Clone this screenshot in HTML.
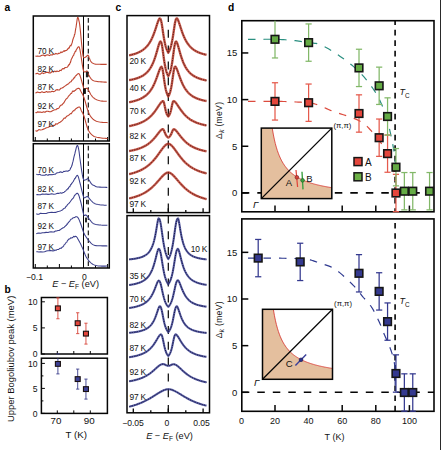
<!DOCTYPE html>
<html><head><meta charset="utf-8"><style>
html,body{margin:0;padding:0;background:#fff;}
body{width:441px;height:450px;overflow:hidden;font-family:"Liberation Sans", sans-serif;}
svg{display:block;}
</style></head><body>
<svg width="441" height="450" viewBox="0 0 441 450" font-family='"Liberation Sans", sans-serif'>
<text x="4.5" y="10.9" font-size="10.2" text-anchor="start" font-weight="bold" font-style="normal" fill="#000" >a</text>
<text x="4.6" y="292.7" font-size="10.2" text-anchor="start" font-weight="bold" font-style="normal" fill="#000" >b</text>
<text x="115.6" y="10.9" font-size="10.2" text-anchor="start" font-weight="bold" font-style="normal" fill="#000" >c</text>
<text x="227.9" y="10.9" font-size="10.2" text-anchor="start" font-weight="bold" font-style="normal" fill="#000" >d</text>
<rect x="33.3" y="16" width="76" height="125" fill="none" stroke="#050505" stroke-width="1.5"/>
<line x1="83.5" y1="16" x2="83.5" y2="141" stroke="#050505" stroke-width="1" />
<line x1="88.3" y1="16" x2="88.3" y2="141" stroke="#050505" stroke-width="1.1" stroke-dasharray="4.8,2.9" stroke-dashoffset="5.8"/>
<line x1="35.3" y1="141" x2="35.3" y2="137" stroke="#050505" stroke-width="1" />
<line x1="47.3" y1="141" x2="47.3" y2="138.5" stroke="#050505" stroke-width="1" />
<line x1="59.4" y1="141" x2="59.4" y2="137" stroke="#050505" stroke-width="1" />
<line x1="71.4" y1="141" x2="71.4" y2="138.5" stroke="#050505" stroke-width="1" />
<line x1="83.5" y1="141" x2="83.5" y2="137" stroke="#050505" stroke-width="1" />
<line x1="95.5" y1="141" x2="95.5" y2="138.5" stroke="#050505" stroke-width="1" />
<line x1="107.6" y1="141" x2="107.6" y2="137" stroke="#050505" stroke-width="1" />
<rect x="33.3" y="143.7" width="76" height="124.3" fill="none" stroke="#050505" stroke-width="1.5"/>
<line x1="83.5" y1="143.7" x2="83.5" y2="268" stroke="#050505" stroke-width="1" />
<line x1="88.3" y1="143.7" x2="88.3" y2="268" stroke="#050505" stroke-width="1.1" stroke-dasharray="4.8,2.9" stroke-dashoffset="5.6"/>
<line x1="35.3" y1="268" x2="35.3" y2="264" stroke="#050505" stroke-width="1" />
<line x1="47.3" y1="268" x2="47.3" y2="265.5" stroke="#050505" stroke-width="1" />
<line x1="59.4" y1="268" x2="59.4" y2="264" stroke="#050505" stroke-width="1" />
<line x1="71.4" y1="268" x2="71.4" y2="265.5" stroke="#050505" stroke-width="1" />
<line x1="83.5" y1="268" x2="83.5" y2="264" stroke="#050505" stroke-width="1" />
<line x1="95.5" y1="268" x2="95.5" y2="265.5" stroke="#050505" stroke-width="1" />
<line x1="107.6" y1="268" x2="107.6" y2="264" stroke="#050505" stroke-width="1" />
<path d="M35.4,55.93 L36.27,56.29 L37.44,55.97 L38.84,56.19 L40.37,56.1 L41.97,55.19 L43.54,54.97 L45,55.97 L46.41,55 L47.86,54.78 L49.33,55.65 L50.78,54.7 L52.17,55 L53.49,54.28 L54.7,54.29 L55.79,53.4 L56.79,53.87 L57.71,53.98 L58.57,53.28 L59.39,53.35 L60.2,53.01 L61,51.89 L61.8,52.57 L62.58,52.03 L63.34,51.31 L64.07,50.59 L64.76,51.42 L65.4,50.52 L66,50.51 L66.54,50.37 L67.01,49.78 L67.44,49.7 L67.84,48.59 L68.22,48.76 L68.6,47.85 L69,48.11 L69.41,47.59 L69.83,46.07 L70.24,45.68 L70.64,45.32 L71.02,45.86 L71.37,44.55 L71.7,44.18 L71.99,42.98 L72.24,42.42 L72.47,41.34 L72.69,40.35 L72.89,39.76 L73.09,38.89 L73.3,38.57 L73.51,37.61 L73.71,37.43 L73.91,36.85 L74.1,36.58 L74.3,35.62 L74.5,34.29 L74.7,34.5 L74.91,33.72 L75.12,32.59 L75.34,30.97 L75.56,29.97 L75.78,28.03 L75.99,27.67 L76.2,26 L76.41,24.71 L76.61,23.26 L76.81,21.76 L77.01,20.33 L77.2,19.07 L77.4,18.09 L77.6,17.5 L77.8,17.35 L78.01,17.54 L78.22,18.01 L78.43,18.67 L78.63,19.45 L78.82,20.25 L79,21 L79.16,21.63 L79.29,22.2 L79.4,22.79 L79.52,23.49 L79.65,24.42 L79.81,25.66 L80,27.3 L80.24,29.53 L80.52,32.32 L80.82,35.47 L81.14,38.75 L81.45,41.96 L81.74,44.88 L82,47.3 L82.22,49.28 L82.4,51.01 L82.57,52.53 L82.73,53.84 L82.9,54.96 L83.08,55.91 L83.3,56.7 L83.54,57.27 L83.8,57.59 L84.07,57.71 L84.36,57.69 L84.66,57.57 L84.97,57.43 L85.3,57.3 L85.66,57.11 L86.06,56.77 L86.47,56.35 L86.89,55.93 L87.3,55.57 L87.67,55.34 L88,55.3 L88.27,55.48 L88.51,55.83 L88.71,56.29 L88.9,56.83 L89.08,57.41 L89.28,57.98 L89.5,58.5 L89.73,59 L89.95,59.52 L90.17,60.06 L90.4,60.59 L90.66,61.1 L90.96,61.58 L91.3,62 L91.69,62.38 L92.1,62.73 L92.55,63.05 L93.03,63.34 L93.54,63.6 L94.1,63.82 L94.7,64 L95.35,64.13 L96.03,64.22 L96.77,64.26 L97.53,64.27 L98.33,64.28 L99.15,64.28 L100,64.3 L100.94,64.33 L102.01,64.35 L103.13,64.36 L104.22,64.37 L105.23,64.38 L106.08,64.39 L106.7,64.4" fill="none" stroke="#bf4632" stroke-width="1.1" stroke-linejoin="round"/>
<path d="M35.4,74.1 L36.27,73.61 L37.44,73.18 L38.84,74.15 L40.37,74.19 L41.97,72.76 L43.54,73.59 L45,72.87 L46.4,72.35 L47.83,72.39 L49.28,72.89 L50.71,72.86 L52.1,71.51 L53.44,72.1 L54.7,71.06 L55.88,71.75 L56.99,70.94 L58.05,71.42 L59.07,71.25 L60.06,70.25 L61.03,70.58 L62,69.23 L62.98,68.52 L63.96,68.86 L64.93,67.66 L65.87,67.46 L66.76,67.25 L67.57,66.95 L68.3,65.62 L68.93,64.62 L69.46,64.79 L69.93,62.95 L70.34,62.73 L70.73,61.54 L71.11,59.77 L71.5,58.94 L71.89,58.2 L72.27,57.61 L72.62,56.82 L72.97,56.08 L73.31,55.5 L73.65,55.29 L74,54.01 L74.36,53.22 L74.72,52.94 L75.09,51.58 L75.45,51 L75.81,51.32 L76.16,50.05 L76.5,49.5 L76.84,48.96 L77.18,48.4 L77.51,47.86 L77.84,47.38 L78.15,47.01 L78.44,46.77 L78.7,46.7 L78.93,46.81 L79.14,47.06 L79.32,47.44 L79.49,47.94 L79.65,48.54 L79.82,49.23 L80,50 L80.18,50.86 L80.35,51.83 L80.52,52.89 L80.69,54.04 L80.88,55.29 L81.08,56.61 L81.3,58 L81.55,59.59 L81.83,61.43 L82.12,63.39 L82.43,65.35 L82.73,67.18 L83.02,68.78 L83.3,70 L83.56,70.84 L83.8,71.39 L84.03,71.71 L84.26,71.88 L84.49,71.94 L84.74,71.96 L85,72 L85.29,71.98 L85.59,71.8 L85.91,71.55 L86.23,71.27 L86.54,71.05 L86.83,70.93 L87.1,71 L87.32,71.25 L87.49,71.62 L87.64,72.1 L87.79,72.64 L87.97,73.24 L88.2,73.87 L88.5,74.5 L88.88,75.18 L89.3,75.96 L89.77,76.79 L90.28,77.62 L90.83,78.41 L91.4,79.12 L92,79.7 L92.59,80.15 L93.18,80.49 L93.79,80.77 L94.44,80.98 L95.18,81.17 L96.02,81.33 L97,81.5 L98.23,81.66 L99.74,81.8 L101.38,81.91 L103.03,82.01 L104.57,82.08 L105.87,82.15 L106.8,82.2" fill="none" stroke="#bf4632" stroke-width="1.1" stroke-linejoin="round"/>
<path d="M35.4,92.83 L36.27,92.82 L37.44,92.01 L38.84,92.5 L40.37,92.64 L41.97,91.76 L43.54,92.48 L45,92.39 L46.39,91.46 L47.8,92.15 L49.22,91.8 L50.64,91.96 L52.03,91.32 L53.39,91.59 L54.7,91.33 L55.97,89.97 L57.2,89.61 L58.4,90.01 L59.57,89.91 L60.73,88.36 L61.87,88.06 L63,87.63 L64.14,86.56 L65.3,85.85 L66.45,84.97 L67.57,84.21 L68.64,83.69 L69.62,82.47 L70.5,81.83 L71.26,81.68 L71.9,79.96 L72.46,80.07 L72.97,79.66 L73.46,78.45 L73.96,77.71 L74.5,77.93 L75.09,76.48 L75.7,75.69 L76.32,75.4 L76.93,74.73 L77.5,74.16 L78.03,73.77 L78.5,73.6 L78.89,73.67 L79.22,73.93 L79.5,74.36 L79.75,74.91 L79.99,75.55 L80.23,76.26 L80.5,77 L80.79,77.83 L81.08,78.8 L81.37,79.86 L81.66,80.97 L81.95,82.06 L82.23,83.08 L82.5,84 L82.75,84.85 L82.97,85.69 L83.19,86.49 L83.4,87.23 L83.64,87.88 L83.9,88.41 L84.2,88.8 L84.56,88.98 L84.97,88.95 L85.41,88.79 L85.86,88.57 L86.31,88.36 L86.73,88.25 L87.1,88.3 L87.42,88.51 L87.71,88.8 L87.97,89.17 L88.22,89.58 L88.46,90.04 L88.72,90.52 L89,91 L89.29,91.51 L89.57,92.06 L89.86,92.65 L90.16,93.25 L90.48,93.86 L90.83,94.44 L91.2,95 L91.59,95.54 L92,96.07 L92.42,96.6 L92.87,97.11 L93.36,97.6 L93.9,98.07 L94.5,98.5 L95.16,98.91 L95.87,99.3 L96.63,99.66 L97.44,100 L98.27,100.31 L99.13,100.58 L100,100.8 L100.96,100.97 L102.05,101.09 L103.18,101.17 L104.29,101.22 L105.31,101.25 L106.17,101.27 L106.8,101.3" fill="none" stroke="#bf4632" stroke-width="1.1" stroke-linejoin="round"/>
<path d="M35.4,112.51 L36.27,112.81 L37.44,111.89 L38.84,112.1 L40.37,112 L41.97,112.57 L43.54,111.87 L45,112.3 L46.4,111.2 L47.83,111.32 L49.28,111.64 L50.71,111.82 L52.1,110.99 L53.44,110.36 L54.7,109.77 L55.88,109.76 L56.99,108.58 L58.05,108.65 L59.07,107.83 L60.06,105.99 L61.03,105.16 L62,104.93 L62.97,103.67 L63.92,102.77 L64.85,100.94 L65.76,99.45 L66.65,98.51 L67.49,98.11 L68.3,96.38 L69.05,95.59 L69.74,94.85 L70.38,94.07 L71.01,93.33 L71.65,93.35 L72.3,91.63 L73,90.81 L73.77,91.5 L74.6,90.79 L75.46,90.33 L76.31,89.12 L77.12,88.69 L77.86,88.4 L78.5,88.3 L79.01,88.39 L79.42,88.65 L79.75,89.05 L80.04,89.56 L80.33,90.16 L80.64,90.81 L81,91.5 L81.4,92.2 L81.81,92.92 L82.23,93.69 L82.67,94.56 L83.12,95.54 L83.6,96.68 L84.1,98 L84.63,99.61 L85.2,101.51 L85.79,103.59 L86.39,105.74 L87,107.83 L87.61,109.76 L88.2,111.4 L88.77,112.78 L89.31,114 L89.85,115.08 L90.4,116.05 L90.98,116.93 L91.61,117.74 L92.3,118.5 L93.04,119.19 L93.81,119.79 L94.61,120.31 L95.46,120.76 L96.37,121.15 L97.35,121.49 L98.4,121.8 L99.63,122.05 L101.07,122.23 L102.61,122.36 L104.14,122.44 L105.55,122.5 L106.74,122.55 L107.6,122.6" fill="none" stroke="#bf4632" stroke-width="1.1" stroke-linejoin="round"/>
<path d="M35.4,130.61 L36.27,131.14 L37.44,130.87 L38.84,129.59 L40.37,129.99 L41.97,129.76 L43.54,129.13 L45,128.53 L46.39,127.79 L47.8,127.43 L49.22,126.81 L50.64,126.1 L52.03,126.31 L53.39,125.32 L54.7,125.43 L55.97,123.68 L57.2,124.15 L58.4,123.07 L59.57,122.58 L60.73,121.71 L61.87,120.88 L63,119.61 L64.14,117.99 L65.29,118.16 L66.43,116.49 L67.54,115.81 L68.6,115.48 L69.59,114.48 L70.5,113.58 L71.3,113.62 L72.01,112.49 L72.64,111.48 L73.24,110.75 L73.81,111.04 L74.39,109.96 L75,109.9 L75.65,108.79 L76.33,108.47 L77.01,107.97 L77.68,107.53 L78.31,107.19 L78.89,107 L79.4,107 L79.82,107.22 L80.15,107.63 L80.43,108.18 L80.69,108.84 L80.93,109.56 L81.19,110.29 L81.5,111 L81.83,111.64 L82.16,112.23 L82.5,112.84 L82.85,113.52 L83.23,114.32 L83.65,115.29 L84.1,116.5 L84.6,118.05 L85.13,119.94 L85.7,122.03 L86.29,124.19 L86.91,126.3 L87.55,128.21 L88.2,129.8 L88.86,131.09 L89.54,132.19 L90.23,133.14 L90.95,133.96 L91.7,134.67 L92.48,135.31 L93.3,135.9 L94.17,136.4 L95.07,136.78 L96.01,137.07 L96.98,137.29 L97.97,137.47 L98.98,137.63 L100,137.8 L101.1,137.97 L102.33,138.11 L103.59,138.22 L104.83,138.31 L105.96,138.39 L106.91,138.45 L107.6,138.5" fill="none" stroke="#bf4632" stroke-width="1.1" stroke-linejoin="round"/>
<path d="M36.3,174.1 L37.1,174.49 L38.2,174.84 L39.51,174.29 L40.93,175 L42.38,175.22 L43.77,175.17 L45,175.22 L46.08,174.43 L47.09,175.08 L48.07,175.33 L49.02,174.51 L49.98,174.69 L50.96,174.61 L52,174.73 L53.11,174.41 L54.27,174.16 L55.46,174.13 L56.66,172.99 L57.83,172.68 L58.95,172.41 L60,172.12 L60.99,171.83 L61.95,172.51 L62.87,172.19 L63.74,171.23 L64.56,171.48 L65.32,171.15 L66,171.01 L66.59,170.99 L67.08,171.3 L67.51,171.28 L67.89,171.09 L68.25,170.9 L68.61,170.91 L69,170.42 L69.4,170.45 L69.79,170.15 L70.17,169.26 L70.55,168.3 L70.93,167.63 L71.31,166.92 L71.7,166.1 L72.1,165.02 L72.5,163.14 L72.9,161.94 L73.31,160.05 L73.71,158.14 L74.11,156.41 L74.5,155 L74.89,153.66 L75.28,151.72 L75.68,150.33 L76.06,148.58 L76.43,147.23 L76.78,146.2 L77.1,145.6 L77.39,145.45 L77.66,145.67 L77.91,146.2 L78.14,146.96 L78.36,147.9 L78.58,148.93 L78.8,150 L79,151.12 L79.18,152.34 L79.34,153.69 L79.51,155.17 L79.7,156.79 L79.92,158.56 L80.2,160.5 L80.54,162.8 L80.92,165.53 L81.34,168.48 L81.78,171.44 L82.23,174.2 L82.67,176.55 L83.1,178.3 L83.52,179.38 L83.95,179.96 L84.38,180.17 L84.81,180.12 L85.23,179.95 L85.63,179.76 L86,179.7 L86.33,179.64 L86.62,179.43 L86.88,179.16 L87.14,178.88 L87.42,178.68 L87.73,178.63 L88.1,178.8 L88.53,179.25 L89.02,179.94 L89.53,180.79 L90.07,181.7 L90.6,182.59 L91.12,183.39 L91.6,184 L92.05,184.43 L92.48,184.76 L92.89,185 L93.3,185.19 L93.7,185.35 L94.1,185.51 L94.5,185.7 L94.84,185.9 L95.1,186.1 L95.33,186.29 L95.6,186.46 L95.98,186.62 L96.52,186.77 L97.3,186.9 L98.44,187.01 L99.92,187.11 L101.61,187.19 L103.34,187.26 L104.96,187.31 L106.33,187.36 L107.3,187.4" fill="none" stroke="#3b3f8c" stroke-width="1.05" stroke-linejoin="round"/>
<path d="M36.3,194.86 L37.35,194.56 L38.77,194.74 L40.45,194.77 L42.32,194 L44.26,194.2 L46.18,194.06 L48,194.38 L49.8,194.33 L51.72,193.69 L53.67,194.15 L55.59,193.96 L57.42,193.33 L59.07,193.38 L60.5,192.82 L61.67,193.23 L62.65,192.74 L63.48,192.57 L64.19,192.06 L64.81,191.51 L65.41,191.15 L66,190.56 L66.56,189.71 L67.04,189.82 L67.46,188.87 L67.85,188.62 L68.22,188.83 L68.59,187.65 L69,187.19 L69.43,186.63 L69.86,186.79 L70.29,185.42 L70.71,184.58 L71.14,184.7 L71.57,183.29 L72,183.34 L72.43,182.51 L72.87,182 L73.31,181.44 L73.74,180.4 L74.17,179.97 L74.59,178.6 L75,178.77 L75.39,177.91 L75.78,177.44 L76.15,176.56 L76.52,175.97 L76.88,175.55 L77.24,175.36 L77.6,175.5 L77.94,175.97 L78.27,176.7 L78.58,177.65 L78.9,178.8 L79.24,180.1 L79.6,181.51 L80,183 L80.46,184.75 L80.96,186.85 L81.5,189.13 L82.05,191.43 L82.58,193.57 L83.07,195.38 L83.5,196.7 L83.86,197.47 L84.17,197.83 L84.45,197.89 L84.71,197.75 L84.96,197.51 L85.22,197.3 L85.5,197.2 L85.79,197.14 L86.08,197 L86.37,196.83 L86.67,196.67 L86.99,196.56 L87.33,196.55 L87.7,196.7 L88.11,197.03 L88.56,197.5 L89.03,198.07 L89.51,198.71 L90.01,199.35 L90.51,199.97 L91,200.5 L91.47,200.97 L91.93,201.44 L92.38,201.88 L92.85,202.31 L93.35,202.71 L93.89,203.07 L94.5,203.4 L95.17,203.69 L95.89,203.94 L96.65,204.15 L97.45,204.34 L98.28,204.51 L99.13,204.66 L100,204.8 L100.95,204.92 L102.02,205.02 L103.14,205.1 L104.23,205.17 L105.24,205.22 L106.08,205.26 L106.7,205.3" fill="none" stroke="#3b3f8c" stroke-width="1.05" stroke-linejoin="round"/>
<path d="M36.3,213.71 L37.35,214.26 L38.77,214.33 L40.45,213.31 L42.32,213.42 L44.26,213.48 L46.18,213.54 L48,212.74 L49.8,212.47 L51.7,212.34 L53.63,212.49 L55.54,212.39 L57.36,211.73 L59.04,211.33 L60.5,210.9 L61.72,210.28 L62.74,209.7 L63.61,208.64 L64.39,208.28 L65.13,207.92 L65.88,206.5 L66.7,205.95 L67.58,204.41 L68.47,203.91 L69.35,202.9 L70.23,201.72 L71.09,200.48 L71.91,199.42 L72.7,198.64 L73.45,197.94 L74.18,196.14 L74.89,195.05 L75.57,194.77 L76.21,193.79 L76.82,193.35 L77.4,193.3 L77.93,193.68 L78.41,194.41 L78.85,195.43 L79.26,196.67 L79.67,198.05 L80.08,199.52 L80.5,201 L80.95,202.66 L81.41,204.61 L81.88,206.71 L82.34,208.82 L82.77,210.8 L83.16,212.51 L83.5,213.8 L83.77,214.64 L83.99,215.16 L84.17,215.42 L84.33,215.5 L84.47,215.49 L84.62,215.46 L84.8,215.5 L84.97,215.51 L85.12,215.38 L85.27,215.2 L85.43,215.01 L85.62,214.89 L85.87,214.9 L86.2,215.1 L86.62,215.53 L87.11,216.15 L87.67,216.89 L88.25,217.7 L88.85,218.53 L89.44,219.31 L90,220 L90.51,220.62 L90.99,221.24 L91.46,221.84 L91.94,222.41 L92.46,222.94 L93.04,223.4 L93.7,223.8 L94.45,224.12 L95.28,224.36 L96.16,224.54 L97.09,224.69 L98.04,224.8 L99.02,224.9 L100,225 L101.06,225.09 L102.25,225.16 L103.48,225.21 L104.69,225.24 L105.79,225.26 L106.72,225.28 L107.4,225.3" fill="none" stroke="#3b3f8c" stroke-width="1.05" stroke-linejoin="round"/>
<path d="M36.3,233.72 L37.37,233.26 L38.84,233.11 L40.58,233.3 L42.49,232.65 L44.44,232.61 L46.32,232.38 L48,232.59 L49.55,232.1 L51.09,231.78 L52.6,231.98 L54.06,231.96 L55.46,230.99 L56.78,231.06 L58,230.41 L59.12,230.47 L60.15,229.79 L61.1,229.04 L61.98,228.53 L62.8,227.85 L63.57,227.8 L64.3,227.18 L64.97,226.41 L65.55,226.01 L66.08,225.35 L66.56,225.16 L67.03,223.89 L67.5,224.1 L68,222.98 L68.49,222.49 L68.96,221.72 L69.41,221.46 L69.88,220.83 L70.37,219.98 L70.9,219.36 L71.5,219.12 L72.19,218.79 L72.97,217.84 L73.8,217.71 L74.65,217.54 L75.47,216.78 L76.23,216.7 L76.9,216.8 L77.46,217.11 L77.94,217.6 L78.36,218.23 L78.75,219.01 L79.14,219.91 L79.55,220.91 L80,222 L80.5,223.28 L81.04,224.8 L81.59,226.46 L82.15,228.17 L82.69,229.83 L83.21,231.34 L83.7,232.6 L84.14,233.6 L84.55,234.43 L84.93,235.13 L85.31,235.73 L85.68,236.3 L86.08,236.88 L86.5,237.5 L86.94,238.16 L87.38,238.82 L87.83,239.47 L88.3,240.1 L88.79,240.72 L89.33,241.32 L89.9,241.9 L90.46,242.47 L90.99,243.05 L91.54,243.62 L92.15,244.16 L92.88,244.64 L93.78,245.07 L94.9,245.4 L96.4,245.63 L98.29,245.78 L100.39,245.85 L102.52,245.88 L104.52,245.88 L106.2,245.88 L107.4,245.9" fill="none" stroke="#3b3f8c" stroke-width="1.05" stroke-linejoin="round"/>
<path d="M36.3,251.83 L37.39,251.73 L38.9,252.08 L40.69,251.88 L42.63,251.98 L44.59,251.69 L46.42,250.9 L48,250.69 L49.36,250.62 L50.62,250.43 L51.8,250.84 L52.92,250.87 L53.98,250.78 L55,249.97 L56,250.37 L56.96,249.57 L57.88,249.42 L58.75,249.43 L59.58,248.47 L60.36,248.13 L61.1,248.47 L61.8,247.49 L62.44,247.06 L63.02,246.72 L63.54,246.21 L64.04,244.91 L64.52,244.59 L65,244.05 L65.5,243.49 L65.99,242.6 L66.43,242.35 L66.86,242.09 L67.31,240.9 L67.79,240.45 L68.35,239.45 L69,239.07 L69.79,238.93 L70.71,237.8 L71.71,238.01 L72.74,237.53 L73.73,236.31 L74.63,236.9 L75.4,236.27 L76.01,236.53 L76.5,236.82 L76.91,237.25 L77.28,237.8 L77.64,238.45 L78.04,239.19 L78.5,240 L79.03,240.91 L79.59,241.97 L80.17,243.12 L80.76,244.34 L81.35,245.6 L81.94,246.87 L82.5,248.1 L83.03,249.34 L83.54,250.64 L84.04,251.96 L84.54,253.27 L85.06,254.55 L85.61,255.77 L86.2,256.9 L86.84,257.95 L87.5,258.96 L88.19,259.92 L88.9,260.82 L89.65,261.66 L90.41,262.42 L91.2,263.1 L91.99,263.69 L92.77,264.2 L93.57,264.63 L94.41,264.99 L95.32,265.31 L96.3,265.57 L97.4,265.8 L98.72,265.97 L100.27,266.07 L101.94,266.11 L103.61,266.12 L105.16,266.11 L106.46,266.09 L107.4,266.1" fill="none" stroke="#3b3f8c" stroke-width="1.05" stroke-linejoin="round"/>
<text x="37.6" y="53.6" font-size="8.2" text-anchor="start" font-weight="normal" font-style="normal" fill="#111"  letter-spacing="-0.15">70 K</text>
<text x="37.6" y="71.7" font-size="8.2" text-anchor="start" font-weight="normal" font-style="normal" fill="#111"  letter-spacing="-0.15">82 K</text>
<text x="37.6" y="90.3" font-size="8.2" text-anchor="start" font-weight="normal" font-style="normal" fill="#111"  letter-spacing="-0.15">87 K</text>
<text x="37.6" y="109.2" font-size="8.2" text-anchor="start" font-weight="normal" font-style="normal" fill="#111"  letter-spacing="-0.15">92 K</text>
<text x="37.6" y="127.3" font-size="8.2" text-anchor="start" font-weight="normal" font-style="normal" fill="#111"  letter-spacing="-0.15">97 K</text>
<text x="37.6" y="173.2" font-size="8.2" text-anchor="start" font-weight="normal" font-style="normal" fill="#111"  letter-spacing="-0.15">70 K</text>
<text x="37.6" y="191.7" font-size="8.2" text-anchor="start" font-weight="normal" font-style="normal" fill="#111"  letter-spacing="-0.15">82 K</text>
<text x="37.6" y="208.8" font-size="8.2" text-anchor="start" font-weight="normal" font-style="normal" fill="#111"  letter-spacing="-0.15">87 K</text>
<text x="37.6" y="228.5" font-size="8.2" text-anchor="start" font-weight="normal" font-style="normal" fill="#111"  letter-spacing="-0.15">92 K</text>
<text x="37.6" y="250.1" font-size="8.2" text-anchor="start" font-weight="normal" font-style="normal" fill="#111"  letter-spacing="-0.15">97 K</text>
<rect x="85.9" y="71.8" width="2.2" height="5.5" fill="#222"/>
<rect x="83.5" y="88.3" width="2.4" height="5.6" fill="#111"/>
<rect x="86" y="199.8" width="1.6" height="4.4" fill="#222"/>
<rect x="85.1" y="217.6" width="1.8" height="4.8" fill="#111"/>
<text x="34.5" y="279.5" font-size="8.6" text-anchor="middle" font-weight="normal" font-style="normal" fill="#111" >−0.1</text>
<text x="84.5" y="279.5" font-size="8.6" text-anchor="middle" font-weight="normal" font-style="normal" fill="#111" >0</text>
<text x="75.6" y="287.2" font-size="9.2" text-anchor="middle" fill="#111"><tspan font-style="italic">E</tspan> − <tspan font-style="italic">E</tspan><tspan font-size="6.6" dy="1.8">F</tspan><tspan dy="-1.8"> (eV)</tspan></text>
<rect x="41.4" y="297.5" width="66" height="56.5" fill="none" stroke="#050505" stroke-width="1.5"/>
<line x1="41.4" y1="354" x2="44.9" y2="354" stroke="#050505" stroke-width="1" />
<line x1="41.4" y1="327.9" x2="44.9" y2="327.9" stroke="#050505" stroke-width="1" />
<line x1="41.4" y1="301.8" x2="44.9" y2="301.8" stroke="#050505" stroke-width="1" />
<line x1="57.3" y1="354" x2="57.3" y2="351" stroke="#050505" stroke-width="1" />
<line x1="73.8" y1="354" x2="73.8" y2="351" stroke="#050505" stroke-width="1" />
<line x1="90.3" y1="354" x2="90.3" y2="351" stroke="#050505" stroke-width="1" />
<text x="37.5" y="305" font-size="8.6" text-anchor="end" font-weight="normal" font-style="normal" fill="#111" >10</text>
<text x="37.5" y="331.1" font-size="8.6" text-anchor="end" font-weight="normal" font-style="normal" fill="#111" >5</text>
<text x="37.5" y="357.2" font-size="8.6" text-anchor="end" font-weight="normal" font-style="normal" fill="#111" >0</text>
<line x1="57.9" y1="297.88" x2="57.9" y2="318.76" stroke="#d8453a" stroke-width="0.9" />
<line x1="56.3" y1="297.88" x2="59.5" y2="297.88" stroke="#d8453a" stroke-width="0.9" />
<line x1="56.3" y1="318.76" x2="59.5" y2="318.76" stroke="#d8453a" stroke-width="0.9" />
<rect x="55.4" y="305.93" width="5" height="4.8" fill="#e4463c" stroke="#1a1010" stroke-width="1.1"/>
<line x1="77.7" y1="312.76" x2="77.7" y2="333.64" stroke="#d8453a" stroke-width="0.9" />
<line x1="76.1" y1="312.76" x2="79.3" y2="312.76" stroke="#d8453a" stroke-width="0.9" />
<line x1="76.1" y1="333.64" x2="79.3" y2="333.64" stroke="#d8453a" stroke-width="0.9" />
<rect x="75.2" y="320.8" width="5" height="4.8" fill="#e4463c" stroke="#1a1010" stroke-width="1.1"/>
<line x1="85.95" y1="323.2" x2="85.95" y2="344.08" stroke="#d8453a" stroke-width="0.9" />
<line x1="84.35" y1="323.2" x2="87.55" y2="323.2" stroke="#d8453a" stroke-width="0.9" />
<line x1="84.35" y1="344.08" x2="87.55" y2="344.08" stroke="#d8453a" stroke-width="0.9" />
<rect x="83.45" y="331.24" width="5" height="4.8" fill="#e4463c" stroke="#1a1010" stroke-width="1.1"/>
<rect x="41.4" y="358.2" width="66" height="55.2" fill="none" stroke="#050505" stroke-width="1.5"/>
<line x1="41.4" y1="413.4" x2="44.9" y2="413.4" stroke="#050505" stroke-width="1" />
<line x1="41.4" y1="400.9" x2="43.4" y2="400.9" stroke="#050505" stroke-width="1" />
<line x1="41.4" y1="388.4" x2="44.9" y2="388.4" stroke="#050505" stroke-width="1" />
<line x1="41.4" y1="375.9" x2="43.4" y2="375.9" stroke="#050505" stroke-width="1" />
<line x1="41.4" y1="363.4" x2="44.9" y2="363.4" stroke="#050505" stroke-width="1" />
<line x1="57.3" y1="413.4" x2="57.3" y2="410.4" stroke="#050505" stroke-width="1" />
<line x1="73.8" y1="413.4" x2="73.8" y2="410.4" stroke="#050505" stroke-width="1" />
<line x1="90.3" y1="413.4" x2="90.3" y2="410.4" stroke="#050505" stroke-width="1" />
<text x="37.5" y="366.6" font-size="8.6" text-anchor="end" font-weight="normal" font-style="normal" fill="#111" >10</text>
<text x="37.5" y="391.6" font-size="8.6" text-anchor="end" font-weight="normal" font-style="normal" fill="#111" >5</text>
<text x="37.5" y="416.6" font-size="8.6" text-anchor="end" font-weight="normal" font-style="normal" fill="#111" >0</text>
<line x1="57.9" y1="358.2" x2="57.9" y2="373.9" stroke="#3a3d8c" stroke-width="0.9" />
<line x1="56.3" y1="353.9" x2="59.5" y2="353.9" stroke="#3a3d8c" stroke-width="0.9" />
<line x1="56.3" y1="373.9" x2="59.5" y2="373.9" stroke="#3a3d8c" stroke-width="0.9" />
<rect x="55.4" y="361.5" width="5" height="4.8" fill="#3c3f95" stroke="#1a1010" stroke-width="1.1"/>
<line x1="77.7" y1="369.1" x2="77.7" y2="389.1" stroke="#3a3d8c" stroke-width="0.9" />
<line x1="76.1" y1="369.1" x2="79.3" y2="369.1" stroke="#3a3d8c" stroke-width="0.9" />
<line x1="76.1" y1="389.1" x2="79.3" y2="389.1" stroke="#3a3d8c" stroke-width="0.9" />
<rect x="75.2" y="376.7" width="5" height="4.8" fill="#3c3f95" stroke="#1a1010" stroke-width="1.1"/>
<line x1="85.95" y1="379.1" x2="85.95" y2="399.1" stroke="#3a3d8c" stroke-width="0.9" />
<line x1="84.35" y1="379.1" x2="87.55" y2="379.1" stroke="#3a3d8c" stroke-width="0.9" />
<line x1="84.35" y1="399.1" x2="87.55" y2="399.1" stroke="#3a3d8c" stroke-width="0.9" />
<rect x="83.45" y="386.7" width="5" height="4.8" fill="#3c3f95" stroke="#1a1010" stroke-width="1.1"/>
<text x="55.9" y="423.8" font-size="9.8" text-anchor="middle" font-weight="normal" font-style="normal" fill="#111" >70</text>
<text x="89.2" y="423.8" font-size="9.8" text-anchor="middle" font-weight="normal" font-style="normal" fill="#111" >90</text>
<text x="76.3" y="437.6" font-size="9.7" text-anchor="middle" font-weight="normal" font-style="normal" fill="#111" >T (K)</text>
<text x="0" y="0" font-size="9.45" text-anchor="middle" fill="#111" transform="translate(14.4,358.9) rotate(-90)">Upper Bogoliubov peak (meV)</text>
<rect x="127" y="15.6" width="82.5" height="197" fill="none" stroke="#050505" stroke-width="1.5"/>
<line x1="133.3" y1="212.6" x2="133.3" y2="208.3" stroke="#050505" stroke-width="1.3" />
<line x1="150.8" y1="212.6" x2="150.8" y2="210.1" stroke="#050505" stroke-width="1.3" />
<line x1="168.3" y1="212.6" x2="168.3" y2="208.3" stroke="#050505" stroke-width="1.3" />
<line x1="185.8" y1="212.6" x2="185.8" y2="210.1" stroke="#050505" stroke-width="1.3" />
<line x1="203.1" y1="212.6" x2="203.1" y2="208.3" stroke="#050505" stroke-width="1.3" />
<line x1="168.3" y1="15.6" x2="168.3" y2="212.6" stroke="#050505" stroke-width="1.2" stroke-dasharray="8,7.8" stroke-dashoffset="1.6"/>
<rect x="127" y="215.6" width="82.5" height="197.2" fill="none" stroke="#050505" stroke-width="1.5"/>
<line x1="133.3" y1="412.8" x2="133.3" y2="408.5" stroke="#050505" stroke-width="1.3" />
<line x1="150.8" y1="412.8" x2="150.8" y2="410.3" stroke="#050505" stroke-width="1.3" />
<line x1="168.3" y1="412.8" x2="168.3" y2="408.5" stroke="#050505" stroke-width="1.3" />
<line x1="185.8" y1="412.8" x2="185.8" y2="410.3" stroke="#050505" stroke-width="1.3" />
<line x1="203.1" y1="412.8" x2="203.1" y2="408.5" stroke="#050505" stroke-width="1.3" />
<line x1="168.3" y1="215.6" x2="168.3" y2="412.8" stroke="#050505" stroke-width="1.2" stroke-dasharray="8,7.8" stroke-dashoffset="0.2"/>
<path d="M129.2,55.32 L129.59,55.24 L129.98,55.15 L130.37,55.07 L130.75,54.97 L131.14,54.88 L131.53,54.79 L131.92,54.69 L132.31,54.59 L132.7,54.48 L133.08,54.37 L133.47,54.26 L133.86,54.15 L134.25,54.03 L134.64,53.9 L135.03,53.78 L135.42,53.65 L135.8,53.51 L136.19,53.37 L136.58,53.22 L136.97,53.07 L137.36,52.92 L137.75,52.75 L138.13,52.59 L138.52,52.41 L138.91,52.23 L139.3,52.04 L139.69,51.85 L140.08,51.65 L140.46,51.44 L140.85,51.22 L141.24,50.99 L141.63,50.75 L142.02,50.51 L142.41,50.25 L142.8,49.98 L143.18,49.7 L143.57,49.41 L143.96,49.11 L144.35,48.79 L144.74,48.45 L145.13,48.11 L145.51,47.74 L145.9,47.36 L146.29,46.96 L146.68,46.54 L147.07,46.1 L147.46,45.65 L147.85,45.16 L148.23,44.66 L148.62,44.13 L149.01,43.57 L149.4,42.98 L149.79,42.37 L150.18,41.72 L150.56,41.04 L150.95,40.33 L151.34,39.58 L151.73,38.8 L152.12,37.98 L152.51,37.11 L152.89,36.21 L153.28,35.26 L153.67,34.28 L154.06,33.25 L154.45,32.19 L154.84,31.08 L155.23,29.95 L155.61,28.78 L156,27.59 L156.39,26.39 L156.78,25.18 L157.17,23.99 L157.56,22.83 L157.94,21.72 L158.33,20.7 L158.72,19.79 L159.11,19.05 L159.5,18.54 L159.7,18.43 L159.89,18.45 L160.28,18.69 L160.66,19.36 L161.05,20.54 L161.44,22.22 L161.83,24.34 L162.22,26.78 L162.61,29.4 L162.99,32.07 L163.38,34.68 L163.77,37.15 L164.16,39.44 L164.55,41.52 L164.94,43.38 L165.33,45.03 L165.71,46.49 L166.1,47.77 L166.49,48.9 L166.88,49.88 L167.27,50.75 L167.66,51.51 L168.04,52.18 L168.3,52.58 L168.43,52.37 L168.82,51.73 L169.21,50.99 L169.6,50.16 L169.99,49.21 L170.37,48.13 L170.76,46.89 L171.15,45.49 L171.54,43.9 L171.93,42.1 L172.32,40.09 L172.71,37.87 L173.09,35.45 L173.48,32.87 L173.87,30.2 L174.26,27.55 L174.65,25.04 L175.04,22.8 L175.42,20.97 L175.81,19.62 L176.2,18.79 L176.59,18.42 L176.9,18.36 L176.98,18.39 L177.37,18.79 L177.76,19.46 L178.14,20.32 L178.53,21.31 L178.92,22.39 L179.31,23.53 L179.7,24.72 L180.09,25.92 L180.47,27.12 L180.86,28.31 L181.25,29.48 L181.64,30.62 L182.03,31.74 L182.42,32.81 L182.81,33.85 L183.19,34.84 L183.58,35.8 L183.97,36.71 L184.36,37.58 L184.75,38.41 L185.14,39.21 L185.52,39.96 L185.91,40.69 L186.3,41.37 L186.69,42.02 L187.08,42.65 L187.47,43.24 L187.85,43.8 L188.24,44.34 L188.63,44.85 L189.02,45.33 L189.41,45.8 L189.8,46.24 L190.19,46.66 L190.57,47.06 L190.96,47.45 L191.35,47.81 L191.74,48.16 L192.13,48.5 L192.52,48.82 L192.9,49.12 L193.29,49.42 L193.68,49.7 L194.07,49.97 L194.46,50.22 L194.85,50.47 L195.24,50.71 L195.62,50.94 L196.01,51.15 L196.4,51.36 L196.79,51.57 L197.18,51.76 L197.57,51.95 L197.95,52.13 L198.34,52.3 L198.73,52.47 L199.12,52.63 L199.51,52.78 L199.9,52.93 L200.28,53.07 L200.67,53.21 L201.06,53.35 L201.45,53.48 L201.84,53.6 L202.23,53.72 L202.62,53.84 L203,53.96 L203.39,54.07 L203.78,54.17 L204.17,54.27 L204.56,54.37 L204.95,54.47 L205.33,54.56 L205.72,54.66 L206.11,54.74 L206.5,54.83" fill="none" stroke="#bd3c2c" stroke-width="2.4" stroke-linejoin="round" opacity="0.85"/>
<path d="M129.2,55.32 L129.59,55.24 L129.98,55.15 L130.37,55.07 L130.75,54.97 L131.14,54.88 L131.53,54.79 L131.92,54.69 L132.31,54.59 L132.7,54.48 L133.08,54.37 L133.47,54.26 L133.86,54.15 L134.25,54.03 L134.64,53.9 L135.03,53.78 L135.42,53.65 L135.8,53.51 L136.19,53.37 L136.58,53.22 L136.97,53.07 L137.36,52.92 L137.75,52.75 L138.13,52.59 L138.52,52.41 L138.91,52.23 L139.3,52.04 L139.69,51.85 L140.08,51.65 L140.46,51.44 L140.85,51.22 L141.24,50.99 L141.63,50.75 L142.02,50.51 L142.41,50.25 L142.8,49.98 L143.18,49.7 L143.57,49.41 L143.96,49.11 L144.35,48.79 L144.74,48.45 L145.13,48.11 L145.51,47.74 L145.9,47.36 L146.29,46.96 L146.68,46.54 L147.07,46.1 L147.46,45.65 L147.85,45.16 L148.23,44.66 L148.62,44.13 L149.01,43.57 L149.4,42.98 L149.79,42.37 L150.18,41.72 L150.56,41.04 L150.95,40.33 L151.34,39.58 L151.73,38.8 L152.12,37.98 L152.51,37.11 L152.89,36.21 L153.28,35.26 L153.67,34.28 L154.06,33.25 L154.45,32.19 L154.84,31.08 L155.23,29.95 L155.61,28.78 L156,27.59 L156.39,26.39 L156.78,25.18 L157.17,23.99 L157.56,22.83 L157.94,21.72 L158.33,20.7 L158.72,19.79 L159.11,19.05 L159.5,18.54 L159.7,18.43 L159.89,18.45 L160.28,18.69 L160.66,19.36 L161.05,20.54 L161.44,22.22 L161.83,24.34 L162.22,26.78 L162.61,29.4 L162.99,32.07 L163.38,34.68 L163.77,37.15 L164.16,39.44 L164.55,41.52 L164.94,43.38 L165.33,45.03 L165.71,46.49 L166.1,47.77 L166.49,48.9 L166.88,49.88 L167.27,50.75 L167.66,51.51 L168.04,52.18 L168.3,52.58 L168.43,52.37 L168.82,51.73 L169.21,50.99 L169.6,50.16 L169.99,49.21 L170.37,48.13 L170.76,46.89 L171.15,45.49 L171.54,43.9 L171.93,42.1 L172.32,40.09 L172.71,37.87 L173.09,35.45 L173.48,32.87 L173.87,30.2 L174.26,27.55 L174.65,25.04 L175.04,22.8 L175.42,20.97 L175.81,19.62 L176.2,18.79 L176.59,18.42 L176.9,18.36 L176.98,18.39 L177.37,18.79 L177.76,19.46 L178.14,20.32 L178.53,21.31 L178.92,22.39 L179.31,23.53 L179.7,24.72 L180.09,25.92 L180.47,27.12 L180.86,28.31 L181.25,29.48 L181.64,30.62 L182.03,31.74 L182.42,32.81 L182.81,33.85 L183.19,34.84 L183.58,35.8 L183.97,36.71 L184.36,37.58 L184.75,38.41 L185.14,39.21 L185.52,39.96 L185.91,40.69 L186.3,41.37 L186.69,42.02 L187.08,42.65 L187.47,43.24 L187.85,43.8 L188.24,44.34 L188.63,44.85 L189.02,45.33 L189.41,45.8 L189.8,46.24 L190.19,46.66 L190.57,47.06 L190.96,47.45 L191.35,47.81 L191.74,48.16 L192.13,48.5 L192.52,48.82 L192.9,49.12 L193.29,49.42 L193.68,49.7 L194.07,49.97 L194.46,50.22 L194.85,50.47 L195.24,50.71 L195.62,50.94 L196.01,51.15 L196.4,51.36 L196.79,51.57 L197.18,51.76 L197.57,51.95 L197.95,52.13 L198.34,52.3 L198.73,52.47 L199.12,52.63 L199.51,52.78 L199.9,52.93 L200.28,53.07 L200.67,53.21 L201.06,53.35 L201.45,53.48 L201.84,53.6 L202.23,53.72 L202.62,53.84 L203,53.96 L203.39,54.07 L203.78,54.17 L204.17,54.27 L204.56,54.37 L204.95,54.47 L205.33,54.56 L205.72,54.66 L206.11,54.74 L206.5,54.83" fill="none" stroke="#4a1410" stroke-width="1.0" stroke-linejoin="round" stroke-dasharray="1.4,1.1" opacity="0.9"/>
<path d="M129.2,80.12 L129.59,80.05 L129.98,79.98 L130.37,79.91 L130.75,79.84 L131.14,79.76 L131.53,79.68 L131.92,79.6 L132.31,79.52 L132.7,79.43 L133.08,79.34 L133.47,79.25 L133.86,79.15 L134.25,79.05 L134.64,78.95 L135.03,78.84 L135.42,78.73 L135.8,78.62 L136.19,78.5 L136.58,78.38 L136.97,78.25 L137.36,78.12 L137.75,77.99 L138.13,77.85 L138.52,77.7 L138.91,77.55 L139.3,77.39 L139.69,77.22 L140.08,77.05 L140.46,76.87 L140.85,76.69 L141.24,76.49 L141.63,76.29 L142.02,76.08 L142.41,75.86 L142.8,75.63 L143.18,75.39 L143.57,75.14 L143.96,74.87 L144.35,74.6 L144.74,74.31 L145.13,74.01 L145.51,73.69 L145.9,73.36 L146.29,73.01 L146.68,72.64 L147.07,72.26 L147.46,71.85 L147.85,71.43 L148.23,70.98 L148.62,70.51 L149.01,70.01 L149.4,69.48 L149.79,68.93 L150.18,68.34 L150.56,67.73 L150.95,67.07 L151.34,66.38 L151.73,65.66 L152.12,64.89 L152.51,64.08 L152.89,63.22 L153.28,62.32 L153.67,61.36 L154.06,60.36 L154.45,59.3 L154.84,58.19 L155.23,57.03 L155.61,55.82 L156,54.56 L156.39,53.26 L156.78,51.92 L157.17,50.55 L157.56,49.17 L157.94,47.79 L158.33,46.44 L158.72,45.15 L159.11,43.95 L159.5,42.9 L159.89,42.05 L160.28,41.51 L160.4,41.45 L160.66,41.5 L161.05,41.9 L161.44,42.86 L161.83,44.43 L162.22,46.57 L162.61,49.16 L162.99,52.01 L163.38,54.95 L163.77,57.84 L164.16,60.57 L164.55,63.07 L164.94,65.31 L165.33,67.3 L165.71,69.04 L166.1,70.56 L166.49,71.88 L166.88,73.03 L167.27,74.02 L167.66,74.89 L168.04,75.64 L168.3,76.08 L168.43,75.86 L168.82,75.14 L169.21,74.32 L169.6,73.38 L169.99,72.29 L170.37,71.03 L170.76,69.58 L171.15,67.92 L171.54,66.01 L171.93,63.85 L172.32,61.44 L172.71,58.78 L173.09,55.94 L173.48,53.01 L173.87,50.11 L174.26,47.43 L174.65,45.14 L175.04,43.38 L175.42,42.23 L175.81,41.67 L176.2,41.55 L176.2,41.55 L176.59,41.95 L176.98,42.72 L177.37,43.72 L177.76,44.88 L178.14,46.15 L178.53,47.49 L178.92,48.87 L179.31,50.26 L179.7,51.63 L180.09,52.99 L180.47,54.31 L180.86,55.59 L181.25,56.82 L181.64,58 L182.03,59.13 L182.42,60.21 L182.81,61.24 L183.19,62.21 L183.58,63.14 L183.97,64.01 L184.36,64.84 L184.75,65.63 L185.14,66.38 L185.52,67.08 L185.91,67.75 L186.3,68.38 L186.69,68.98 L187.08,69.55 L187.47,70.09 L187.85,70.6 L188.24,71.09 L188.63,71.55 L189.02,71.99 L189.41,72.41 L189.8,72.8 L190.19,73.18 L190.57,73.54 L190.96,73.88 L191.35,74.21 L191.74,74.52 L192.13,74.82 L192.52,75.1 L192.9,75.37 L193.29,75.63 L193.68,75.88 L194.07,76.12 L194.46,76.35 L194.85,76.57 L195.24,76.78 L195.62,76.98 L196.01,77.17 L196.4,77.36 L196.79,77.54 L197.18,77.71 L197.57,77.88 L197.95,78.04 L198.34,78.19 L198.73,78.34 L199.12,78.48 L199.51,78.62 L199.9,78.75 L200.28,78.88 L200.67,79 L201.06,79.12 L201.45,79.24 L201.84,79.35 L202.23,79.46 L202.62,79.56 L203,79.67 L203.39,79.76 L203.78,79.86 L204.17,79.95 L204.56,80.04 L204.95,80.13 L205.33,80.21 L205.72,80.3 L206.11,80.38 L206.5,80.45" fill="none" stroke="#bd3c2c" stroke-width="2.4" stroke-linejoin="round" opacity="0.85"/>
<path d="M129.2,80.12 L129.59,80.05 L129.98,79.98 L130.37,79.91 L130.75,79.84 L131.14,79.76 L131.53,79.68 L131.92,79.6 L132.31,79.52 L132.7,79.43 L133.08,79.34 L133.47,79.25 L133.86,79.15 L134.25,79.05 L134.64,78.95 L135.03,78.84 L135.42,78.73 L135.8,78.62 L136.19,78.5 L136.58,78.38 L136.97,78.25 L137.36,78.12 L137.75,77.99 L138.13,77.85 L138.52,77.7 L138.91,77.55 L139.3,77.39 L139.69,77.22 L140.08,77.05 L140.46,76.87 L140.85,76.69 L141.24,76.49 L141.63,76.29 L142.02,76.08 L142.41,75.86 L142.8,75.63 L143.18,75.39 L143.57,75.14 L143.96,74.87 L144.35,74.6 L144.74,74.31 L145.13,74.01 L145.51,73.69 L145.9,73.36 L146.29,73.01 L146.68,72.64 L147.07,72.26 L147.46,71.85 L147.85,71.43 L148.23,70.98 L148.62,70.51 L149.01,70.01 L149.4,69.48 L149.79,68.93 L150.18,68.34 L150.56,67.73 L150.95,67.07 L151.34,66.38 L151.73,65.66 L152.12,64.89 L152.51,64.08 L152.89,63.22 L153.28,62.32 L153.67,61.36 L154.06,60.36 L154.45,59.3 L154.84,58.19 L155.23,57.03 L155.61,55.82 L156,54.56 L156.39,53.26 L156.78,51.92 L157.17,50.55 L157.56,49.17 L157.94,47.79 L158.33,46.44 L158.72,45.15 L159.11,43.95 L159.5,42.9 L159.89,42.05 L160.28,41.51 L160.4,41.45 L160.66,41.5 L161.05,41.9 L161.44,42.86 L161.83,44.43 L162.22,46.57 L162.61,49.16 L162.99,52.01 L163.38,54.95 L163.77,57.84 L164.16,60.57 L164.55,63.07 L164.94,65.31 L165.33,67.3 L165.71,69.04 L166.1,70.56 L166.49,71.88 L166.88,73.03 L167.27,74.02 L167.66,74.89 L168.04,75.64 L168.3,76.08 L168.43,75.86 L168.82,75.14 L169.21,74.32 L169.6,73.38 L169.99,72.29 L170.37,71.03 L170.76,69.58 L171.15,67.92 L171.54,66.01 L171.93,63.85 L172.32,61.44 L172.71,58.78 L173.09,55.94 L173.48,53.01 L173.87,50.11 L174.26,47.43 L174.65,45.14 L175.04,43.38 L175.42,42.23 L175.81,41.67 L176.2,41.55 L176.2,41.55 L176.59,41.95 L176.98,42.72 L177.37,43.72 L177.76,44.88 L178.14,46.15 L178.53,47.49 L178.92,48.87 L179.31,50.26 L179.7,51.63 L180.09,52.99 L180.47,54.31 L180.86,55.59 L181.25,56.82 L181.64,58 L182.03,59.13 L182.42,60.21 L182.81,61.24 L183.19,62.21 L183.58,63.14 L183.97,64.01 L184.36,64.84 L184.75,65.63 L185.14,66.38 L185.52,67.08 L185.91,67.75 L186.3,68.38 L186.69,68.98 L187.08,69.55 L187.47,70.09 L187.85,70.6 L188.24,71.09 L188.63,71.55 L189.02,71.99 L189.41,72.41 L189.8,72.8 L190.19,73.18 L190.57,73.54 L190.96,73.88 L191.35,74.21 L191.74,74.52 L192.13,74.82 L192.52,75.1 L192.9,75.37 L193.29,75.63 L193.68,75.88 L194.07,76.12 L194.46,76.35 L194.85,76.57 L195.24,76.78 L195.62,76.98 L196.01,77.17 L196.4,77.36 L196.79,77.54 L197.18,77.71 L197.57,77.88 L197.95,78.04 L198.34,78.19 L198.73,78.34 L199.12,78.48 L199.51,78.62 L199.9,78.75 L200.28,78.88 L200.67,79 L201.06,79.12 L201.45,79.24 L201.84,79.35 L202.23,79.46 L202.62,79.56 L203,79.67 L203.39,79.76 L203.78,79.86 L204.17,79.95 L204.56,80.04 L204.95,80.13 L205.33,80.21 L205.72,80.3 L206.11,80.38 L206.5,80.45" fill="none" stroke="#4a1410" stroke-width="1.0" stroke-linejoin="round" stroke-dasharray="1.4,1.1" opacity="0.9"/>
<path d="M129.2,102.22 L129.59,102.14 L129.98,102.06 L130.37,101.98 L130.75,101.9 L131.14,101.82 L131.53,101.73 L131.92,101.64 L132.31,101.55 L132.7,101.46 L133.08,101.36 L133.47,101.26 L133.86,101.16 L134.25,101.05 L134.64,100.94 L135.03,100.83 L135.42,100.72 L135.8,100.6 L136.19,100.47 L136.58,100.35 L136.97,100.22 L137.36,100.08 L137.75,99.94 L138.13,99.8 L138.52,99.65 L138.91,99.49 L139.3,99.33 L139.69,99.17 L140.08,98.99 L140.46,98.82 L140.85,98.63 L141.24,98.44 L141.63,98.24 L142.02,98.03 L142.41,97.82 L142.8,97.6 L143.18,97.36 L143.57,97.12 L143.96,96.87 L144.35,96.61 L144.74,96.34 L145.13,96.05 L145.51,95.75 L145.9,95.44 L146.29,95.12 L146.68,94.78 L147.07,94.43 L147.46,94.06 L147.85,93.68 L148.23,93.27 L148.62,92.85 L149.01,92.41 L149.4,91.95 L149.79,91.46 L150.18,90.95 L150.56,90.42 L150.95,89.86 L151.34,89.27 L151.73,88.65 L152.12,88.01 L152.51,87.33 L152.89,86.62 L153.28,85.88 L153.67,85.1 L154.06,84.29 L154.45,83.43 L154.84,82.55 L155.23,81.62 L155.61,80.66 L156,79.66 L156.39,78.63 L156.78,77.57 L157.17,76.48 L157.56,75.38 L157.94,74.26 L158.33,73.14 L158.72,72.04 L159.11,70.96 L159.5,69.93 L159.89,68.98 L160.28,68.13 L160.66,67.42 L161.05,66.93 L161.3,66.78 L161.44,66.79 L161.83,67.09 L162.22,67.96 L162.61,69.51 L162.99,71.67 L163.38,74.27 L163.77,77.09 L164.16,79.92 L164.55,82.62 L164.94,85.08 L165.33,87.27 L165.71,89.17 L166.1,90.81 L166.49,92.21 L166.88,93.4 L167.27,94.42 L167.66,95.28 L168.04,96.02 L168.3,96.44 L168.43,96.23 L168.82,95.51 L169.21,94.68 L169.6,93.71 L169.99,92.56 L170.37,91.22 L170.76,89.65 L171.15,87.82 L171.54,85.72 L171.93,83.33 L172.32,80.69 L172.71,77.88 L173.09,75.03 L173.48,72.32 L173.87,69.99 L174.26,68.23 L174.65,67.13 L175.04,66.66 L175.3,66.6 L175.42,66.65 L175.81,67.05 L176.2,67.68 L176.59,68.48 L176.98,69.39 L177.37,70.39 L177.76,71.45 L178.14,72.53 L178.53,73.64 L178.92,74.75 L179.31,75.85 L179.7,76.93 L180.09,77.99 L180.47,79.02 L180.86,80.02 L181.25,80.98 L181.64,81.91 L182.03,82.8 L182.42,83.65 L182.81,84.47 L183.19,85.25 L183.58,85.99 L183.97,86.71 L184.36,87.38 L184.75,88.03 L185.14,88.64 L185.52,89.23 L185.91,89.79 L186.3,90.32 L186.69,90.83 L187.08,91.31 L187.47,91.77 L187.85,92.21 L188.24,92.63 L188.63,93.03 L189.02,93.41 L189.41,93.77 L189.8,94.12 L190.19,94.45 L190.57,94.77 L190.96,95.07 L191.35,95.36 L191.74,95.64 L192.13,95.91 L192.52,96.16 L192.9,96.41 L193.29,96.64 L193.68,96.87 L194.07,97.08 L194.46,97.29 L194.85,97.49 L195.24,97.68 L195.62,97.86 L196.01,98.04 L196.4,98.21 L196.79,98.37 L197.18,98.53 L197.57,98.68 L197.95,98.83 L198.34,98.97 L198.73,99.11 L199.12,99.24 L199.51,99.37 L199.9,99.49 L200.28,99.61 L200.67,99.72 L201.06,99.83 L201.45,99.94 L201.84,100.04 L202.23,100.14 L202.62,100.24 L203,100.33 L203.39,100.42 L203.78,100.51 L204.17,100.59 L204.56,100.68 L204.95,100.76 L205.33,100.83 L205.72,100.91 L206.11,100.98 L206.5,101.05" fill="none" stroke="#bd3c2c" stroke-width="2.4" stroke-linejoin="round" opacity="0.85"/>
<path d="M129.2,102.22 L129.59,102.14 L129.98,102.06 L130.37,101.98 L130.75,101.9 L131.14,101.82 L131.53,101.73 L131.92,101.64 L132.31,101.55 L132.7,101.46 L133.08,101.36 L133.47,101.26 L133.86,101.16 L134.25,101.05 L134.64,100.94 L135.03,100.83 L135.42,100.72 L135.8,100.6 L136.19,100.47 L136.58,100.35 L136.97,100.22 L137.36,100.08 L137.75,99.94 L138.13,99.8 L138.52,99.65 L138.91,99.49 L139.3,99.33 L139.69,99.17 L140.08,98.99 L140.46,98.82 L140.85,98.63 L141.24,98.44 L141.63,98.24 L142.02,98.03 L142.41,97.82 L142.8,97.6 L143.18,97.36 L143.57,97.12 L143.96,96.87 L144.35,96.61 L144.74,96.34 L145.13,96.05 L145.51,95.75 L145.9,95.44 L146.29,95.12 L146.68,94.78 L147.07,94.43 L147.46,94.06 L147.85,93.68 L148.23,93.27 L148.62,92.85 L149.01,92.41 L149.4,91.95 L149.79,91.46 L150.18,90.95 L150.56,90.42 L150.95,89.86 L151.34,89.27 L151.73,88.65 L152.12,88.01 L152.51,87.33 L152.89,86.62 L153.28,85.88 L153.67,85.1 L154.06,84.29 L154.45,83.43 L154.84,82.55 L155.23,81.62 L155.61,80.66 L156,79.66 L156.39,78.63 L156.78,77.57 L157.17,76.48 L157.56,75.38 L157.94,74.26 L158.33,73.14 L158.72,72.04 L159.11,70.96 L159.5,69.93 L159.89,68.98 L160.28,68.13 L160.66,67.42 L161.05,66.93 L161.3,66.78 L161.44,66.79 L161.83,67.09 L162.22,67.96 L162.61,69.51 L162.99,71.67 L163.38,74.27 L163.77,77.09 L164.16,79.92 L164.55,82.62 L164.94,85.08 L165.33,87.27 L165.71,89.17 L166.1,90.81 L166.49,92.21 L166.88,93.4 L167.27,94.42 L167.66,95.28 L168.04,96.02 L168.3,96.44 L168.43,96.23 L168.82,95.51 L169.21,94.68 L169.6,93.71 L169.99,92.56 L170.37,91.22 L170.76,89.65 L171.15,87.82 L171.54,85.72 L171.93,83.33 L172.32,80.69 L172.71,77.88 L173.09,75.03 L173.48,72.32 L173.87,69.99 L174.26,68.23 L174.65,67.13 L175.04,66.66 L175.3,66.6 L175.42,66.65 L175.81,67.05 L176.2,67.68 L176.59,68.48 L176.98,69.39 L177.37,70.39 L177.76,71.45 L178.14,72.53 L178.53,73.64 L178.92,74.75 L179.31,75.85 L179.7,76.93 L180.09,77.99 L180.47,79.02 L180.86,80.02 L181.25,80.98 L181.64,81.91 L182.03,82.8 L182.42,83.65 L182.81,84.47 L183.19,85.25 L183.58,85.99 L183.97,86.71 L184.36,87.38 L184.75,88.03 L185.14,88.64 L185.52,89.23 L185.91,89.79 L186.3,90.32 L186.69,90.83 L187.08,91.31 L187.47,91.77 L187.85,92.21 L188.24,92.63 L188.63,93.03 L189.02,93.41 L189.41,93.77 L189.8,94.12 L190.19,94.45 L190.57,94.77 L190.96,95.07 L191.35,95.36 L191.74,95.64 L192.13,95.91 L192.52,96.16 L192.9,96.41 L193.29,96.64 L193.68,96.87 L194.07,97.08 L194.46,97.29 L194.85,97.49 L195.24,97.68 L195.62,97.86 L196.01,98.04 L196.4,98.21 L196.79,98.37 L197.18,98.53 L197.57,98.68 L197.95,98.83 L198.34,98.97 L198.73,99.11 L199.12,99.24 L199.51,99.37 L199.9,99.49 L200.28,99.61 L200.67,99.72 L201.06,99.83 L201.45,99.94 L201.84,100.04 L202.23,100.14 L202.62,100.24 L203,100.33 L203.39,100.42 L203.78,100.51 L204.17,100.59 L204.56,100.68 L204.95,100.76 L205.33,100.83 L205.72,100.91 L206.11,100.98 L206.5,101.05" fill="none" stroke="#4a1410" stroke-width="1.0" stroke-linejoin="round" stroke-dasharray="1.4,1.1" opacity="0.9"/>
<path d="M129.2,126.12 L129.59,126.04 L129.98,125.96 L130.37,125.88 L130.75,125.8 L131.14,125.72 L131.53,125.63 L131.92,125.54 L132.31,125.45 L132.7,125.36 L133.08,125.26 L133.47,125.17 L133.86,125.07 L134.25,124.96 L134.64,124.86 L135.03,124.75 L135.42,124.64 L135.8,124.52 L136.19,124.41 L136.58,124.29 L136.97,124.16 L137.36,124.03 L137.75,123.9 L138.13,123.77 L138.52,123.63 L138.91,123.49 L139.3,123.34 L139.69,123.19 L140.08,123.03 L140.46,122.87 L140.85,122.71 L141.24,122.54 L141.63,122.36 L142.02,122.18 L142.41,122 L142.8,121.8 L143.18,121.61 L143.57,121.4 L143.96,121.19 L144.35,120.97 L144.74,120.75 L145.13,120.51 L145.51,120.27 L145.9,120.03 L146.29,119.77 L146.68,119.51 L147.07,119.23 L147.46,118.95 L147.85,118.66 L148.23,118.36 L148.62,118.04 L149.01,117.72 L149.4,117.39 L149.79,117.04 L150.18,116.69 L150.56,116.32 L150.95,115.94 L151.34,115.55 L151.73,115.14 L152.12,114.73 L152.51,114.29 L152.89,113.85 L153.28,113.39 L153.67,112.92 L154.06,112.44 L154.45,111.94 L154.84,111.43 L155.23,110.9 L155.61,110.37 L156,109.82 L156.39,109.26 L156.78,108.69 L157.17,108.12 L157.56,107.54 L157.94,106.95 L158.33,106.37 L158.72,105.78 L159.11,105.2 L159.5,104.63 L159.89,104.08 L160.28,103.54 L160.66,103.03 L161.05,102.56 L161.44,102.13 L161.83,101.75 L162.22,101.44 L162.61,101.21 L162.9,101.13 L162.99,101.14 L163.38,101.37 L163.77,102.14 L164.16,103.46 L164.55,105.19 L164.94,107.09 L165.33,108.94 L165.71,110.61 L166.1,112.04 L166.49,113.22 L166.88,114.2 L167.27,114.99 L167.66,115.63 L168.04,116.15 L168.3,116.44 L168.43,116.29 L168.82,115.8 L169.21,115.19 L169.6,114.45 L169.99,113.53 L170.37,112.41 L170.76,111.05 L171.15,109.46 L171.54,107.65 L171.93,105.74 L172.32,103.93 L172.71,102.44 L173.09,101.49 L173.48,101.1 L173.7,101.06 L173.87,101.09 L174.26,101.28 L174.65,101.56 L175.04,101.91 L175.42,102.32 L175.81,102.78 L176.2,103.28 L176.59,103.8 L176.98,104.34 L177.37,104.9 L177.76,105.47 L178.14,106.05 L178.53,106.63 L178.92,107.21 L179.31,107.79 L179.7,108.36 L180.09,108.93 L180.47,109.48 L180.86,110.03 L181.25,110.57 L181.64,111.09 L182.03,111.6 L182.42,112.1 L182.81,112.58 L183.19,113.05 L183.58,113.51 L183.97,113.95 L184.36,114.38 L184.75,114.8 L185.14,115.2 L185.52,115.6 L185.91,115.97 L186.3,116.34 L186.69,116.7 L187.08,117.04 L187.47,117.37 L187.85,117.69 L188.24,118 L188.63,118.3 L189.02,118.59 L189.41,118.87 L189.8,119.14 L190.19,119.4 L190.57,119.66 L190.96,119.9 L191.35,120.14 L191.74,120.37 L192.13,120.59 L192.52,120.81 L192.9,121.02 L193.29,121.22 L193.68,121.41 L194.07,121.6 L194.46,121.79 L194.85,121.96 L195.24,122.13 L195.62,122.3 L196.01,122.46 L196.4,122.62 L196.79,122.77 L197.18,122.92 L197.57,123.06 L197.95,123.2 L198.34,123.34 L198.73,123.47 L199.12,123.59 L199.51,123.72 L199.9,123.84 L200.28,123.95 L200.67,124.07 L201.06,124.18 L201.45,124.29 L201.84,124.39 L202.23,124.49 L202.62,124.59 L203,124.69 L203.39,124.78 L203.78,124.87 L204.17,124.96 L204.56,125.05 L204.95,125.13 L205.33,125.21 L205.72,125.29 L206.11,125.37 L206.5,125.44" fill="none" stroke="#bd3c2c" stroke-width="2.4" stroke-linejoin="round" opacity="0.85"/>
<path d="M129.2,126.12 L129.59,126.04 L129.98,125.96 L130.37,125.88 L130.75,125.8 L131.14,125.72 L131.53,125.63 L131.92,125.54 L132.31,125.45 L132.7,125.36 L133.08,125.26 L133.47,125.17 L133.86,125.07 L134.25,124.96 L134.64,124.86 L135.03,124.75 L135.42,124.64 L135.8,124.52 L136.19,124.41 L136.58,124.29 L136.97,124.16 L137.36,124.03 L137.75,123.9 L138.13,123.77 L138.52,123.63 L138.91,123.49 L139.3,123.34 L139.69,123.19 L140.08,123.03 L140.46,122.87 L140.85,122.71 L141.24,122.54 L141.63,122.36 L142.02,122.18 L142.41,122 L142.8,121.8 L143.18,121.61 L143.57,121.4 L143.96,121.19 L144.35,120.97 L144.74,120.75 L145.13,120.51 L145.51,120.27 L145.9,120.03 L146.29,119.77 L146.68,119.51 L147.07,119.23 L147.46,118.95 L147.85,118.66 L148.23,118.36 L148.62,118.04 L149.01,117.72 L149.4,117.39 L149.79,117.04 L150.18,116.69 L150.56,116.32 L150.95,115.94 L151.34,115.55 L151.73,115.14 L152.12,114.73 L152.51,114.29 L152.89,113.85 L153.28,113.39 L153.67,112.92 L154.06,112.44 L154.45,111.94 L154.84,111.43 L155.23,110.9 L155.61,110.37 L156,109.82 L156.39,109.26 L156.78,108.69 L157.17,108.12 L157.56,107.54 L157.94,106.95 L158.33,106.37 L158.72,105.78 L159.11,105.2 L159.5,104.63 L159.89,104.08 L160.28,103.54 L160.66,103.03 L161.05,102.56 L161.44,102.13 L161.83,101.75 L162.22,101.44 L162.61,101.21 L162.9,101.13 L162.99,101.14 L163.38,101.37 L163.77,102.14 L164.16,103.46 L164.55,105.19 L164.94,107.09 L165.33,108.94 L165.71,110.61 L166.1,112.04 L166.49,113.22 L166.88,114.2 L167.27,114.99 L167.66,115.63 L168.04,116.15 L168.3,116.44 L168.43,116.29 L168.82,115.8 L169.21,115.19 L169.6,114.45 L169.99,113.53 L170.37,112.41 L170.76,111.05 L171.15,109.46 L171.54,107.65 L171.93,105.74 L172.32,103.93 L172.71,102.44 L173.09,101.49 L173.48,101.1 L173.7,101.06 L173.87,101.09 L174.26,101.28 L174.65,101.56 L175.04,101.91 L175.42,102.32 L175.81,102.78 L176.2,103.28 L176.59,103.8 L176.98,104.34 L177.37,104.9 L177.76,105.47 L178.14,106.05 L178.53,106.63 L178.92,107.21 L179.31,107.79 L179.7,108.36 L180.09,108.93 L180.47,109.48 L180.86,110.03 L181.25,110.57 L181.64,111.09 L182.03,111.6 L182.42,112.1 L182.81,112.58 L183.19,113.05 L183.58,113.51 L183.97,113.95 L184.36,114.38 L184.75,114.8 L185.14,115.2 L185.52,115.6 L185.91,115.97 L186.3,116.34 L186.69,116.7 L187.08,117.04 L187.47,117.37 L187.85,117.69 L188.24,118 L188.63,118.3 L189.02,118.59 L189.41,118.87 L189.8,119.14 L190.19,119.4 L190.57,119.66 L190.96,119.9 L191.35,120.14 L191.74,120.37 L192.13,120.59 L192.52,120.81 L192.9,121.02 L193.29,121.22 L193.68,121.41 L194.07,121.6 L194.46,121.79 L194.85,121.96 L195.24,122.13 L195.62,122.3 L196.01,122.46 L196.4,122.62 L196.79,122.77 L197.18,122.92 L197.57,123.06 L197.95,123.2 L198.34,123.34 L198.73,123.47 L199.12,123.59 L199.51,123.72 L199.9,123.84 L200.28,123.95 L200.67,124.07 L201.06,124.18 L201.45,124.29 L201.84,124.39 L202.23,124.49 L202.62,124.59 L203,124.69 L203.39,124.78 L203.78,124.87 L204.17,124.96 L204.56,125.05 L204.95,125.13 L205.33,125.21 L205.72,125.29 L206.11,125.37 L206.5,125.44" fill="none" stroke="#4a1410" stroke-width="1.0" stroke-linejoin="round" stroke-dasharray="1.4,1.1" opacity="0.9"/>
<path d="M129.2,151.02 L129.59,150.95 L129.98,150.88 L130.37,150.81 L130.75,150.73 L131.14,150.66 L131.53,150.58 L131.92,150.5 L132.31,150.42 L132.7,150.33 L133.08,150.25 L133.47,150.16 L133.86,150.07 L134.25,149.97 L134.64,149.88 L135.03,149.78 L135.42,149.68 L135.8,149.57 L136.19,149.47 L136.58,149.36 L136.97,149.24 L137.36,149.12 L137.75,149 L138.13,148.88 L138.52,148.75 L138.91,148.62 L139.3,148.49 L139.69,148.35 L140.08,148.21 L140.46,148.06 L140.85,147.91 L141.24,147.75 L141.63,147.59 L142.02,147.42 L142.41,147.25 L142.8,147.07 L143.18,146.89 L143.57,146.7 L143.96,146.5 L144.35,146.3 L144.74,146.1 L145.13,145.88 L145.51,145.66 L145.9,145.43 L146.29,145.2 L146.68,144.95 L147.07,144.7 L147.46,144.44 L147.85,144.17 L148.23,143.9 L148.62,143.61 L149.01,143.31 L149.4,143.01 L149.79,142.69 L150.18,142.37 L150.56,142.03 L150.95,141.69 L151.34,141.33 L151.73,140.96 L152.12,140.58 L152.51,140.19 L152.89,139.79 L153.28,139.38 L153.67,138.95 L154.06,138.52 L154.45,138.07 L154.84,137.62 L155.23,137.15 L155.61,136.68 L156,136.19 L156.39,135.7 L156.78,135.21 L157.17,134.71 L157.56,134.2 L157.94,133.7 L158.33,133.2 L158.72,132.7 L159.11,132.22 L159.5,131.74 L159.89,131.28 L160.28,130.85 L160.66,130.44 L161.05,130.07 L161.44,129.74 L161.83,129.47 L162.22,129.26 L162.6,129.17 L162.61,129.17 L162.99,129.24 L163.38,129.55 L163.77,130.14 L164.16,130.96 L164.55,131.93 L164.94,132.91 L165.33,133.84 L165.71,134.66 L166.1,135.36 L166.49,135.95 L166.88,136.43 L167.27,136.83 L167.66,137.16 L168.04,137.43 L168.3,137.58 L168.43,137.51 L168.82,137.26 L169.21,136.95 L169.6,136.58 L169.99,136.13 L170.37,135.59 L170.76,134.93 L171.15,134.15 L171.54,133.26 L171.93,132.29 L172.32,131.31 L172.71,130.43 L173.09,129.77 L173.48,129.37 L173.87,129.24 L174,129.24 L174.26,129.3 L174.65,129.48 L175.04,129.74 L175.42,130.05 L175.81,130.42 L176.2,130.82 L176.59,131.25 L176.98,131.71 L177.37,132.18 L177.76,132.67 L178.14,133.17 L178.53,133.67 L178.92,134.18 L179.31,134.69 L179.7,135.2 L180.09,135.7 L180.47,136.2 L180.86,136.69 L181.25,137.17 L181.64,137.64 L182.03,138.11 L182.42,138.56 L182.81,139 L183.19,139.44 L183.58,139.86 L183.97,140.27 L184.36,140.67 L184.75,141.05 L185.14,141.43 L185.52,141.8 L185.91,142.15 L186.3,142.5 L186.69,142.83 L187.08,143.15 L187.47,143.47 L187.85,143.77 L188.24,144.06 L188.63,144.35 L189.02,144.62 L189.41,144.89 L189.8,145.15 L190.19,145.4 L190.57,145.65 L190.96,145.88 L191.35,146.11 L191.74,146.33 L192.13,146.55 L192.52,146.75 L192.9,146.96 L193.29,147.15 L193.68,147.34 L194.07,147.53 L194.46,147.7 L194.85,147.88 L195.24,148.05 L195.62,148.21 L196.01,148.37 L196.4,148.52 L196.79,148.67 L197.18,148.82 L197.57,148.96 L197.95,149.1 L198.34,149.23 L198.73,149.36 L199.12,149.49 L199.51,149.61 L199.9,149.73 L200.28,149.84 L200.67,149.96 L201.06,150.07 L201.45,150.18 L201.84,150.28 L202.23,150.38 L202.62,150.48 L203,150.58 L203.39,150.67 L203.78,150.77 L204.17,150.86 L204.56,150.94 L204.95,151.03 L205.33,151.11 L205.72,151.19 L206.11,151.27 L206.5,151.35" fill="none" stroke="#bd3c2c" stroke-width="2.4" stroke-linejoin="round" opacity="0.85"/>
<path d="M129.2,151.02 L129.59,150.95 L129.98,150.88 L130.37,150.81 L130.75,150.73 L131.14,150.66 L131.53,150.58 L131.92,150.5 L132.31,150.42 L132.7,150.33 L133.08,150.25 L133.47,150.16 L133.86,150.07 L134.25,149.97 L134.64,149.88 L135.03,149.78 L135.42,149.68 L135.8,149.57 L136.19,149.47 L136.58,149.36 L136.97,149.24 L137.36,149.12 L137.75,149 L138.13,148.88 L138.52,148.75 L138.91,148.62 L139.3,148.49 L139.69,148.35 L140.08,148.21 L140.46,148.06 L140.85,147.91 L141.24,147.75 L141.63,147.59 L142.02,147.42 L142.41,147.25 L142.8,147.07 L143.18,146.89 L143.57,146.7 L143.96,146.5 L144.35,146.3 L144.74,146.1 L145.13,145.88 L145.51,145.66 L145.9,145.43 L146.29,145.2 L146.68,144.95 L147.07,144.7 L147.46,144.44 L147.85,144.17 L148.23,143.9 L148.62,143.61 L149.01,143.31 L149.4,143.01 L149.79,142.69 L150.18,142.37 L150.56,142.03 L150.95,141.69 L151.34,141.33 L151.73,140.96 L152.12,140.58 L152.51,140.19 L152.89,139.79 L153.28,139.38 L153.67,138.95 L154.06,138.52 L154.45,138.07 L154.84,137.62 L155.23,137.15 L155.61,136.68 L156,136.19 L156.39,135.7 L156.78,135.21 L157.17,134.71 L157.56,134.2 L157.94,133.7 L158.33,133.2 L158.72,132.7 L159.11,132.22 L159.5,131.74 L159.89,131.28 L160.28,130.85 L160.66,130.44 L161.05,130.07 L161.44,129.74 L161.83,129.47 L162.22,129.26 L162.6,129.17 L162.61,129.17 L162.99,129.24 L163.38,129.55 L163.77,130.14 L164.16,130.96 L164.55,131.93 L164.94,132.91 L165.33,133.84 L165.71,134.66 L166.1,135.36 L166.49,135.95 L166.88,136.43 L167.27,136.83 L167.66,137.16 L168.04,137.43 L168.3,137.58 L168.43,137.51 L168.82,137.26 L169.21,136.95 L169.6,136.58 L169.99,136.13 L170.37,135.59 L170.76,134.93 L171.15,134.15 L171.54,133.26 L171.93,132.29 L172.32,131.31 L172.71,130.43 L173.09,129.77 L173.48,129.37 L173.87,129.24 L174,129.24 L174.26,129.3 L174.65,129.48 L175.04,129.74 L175.42,130.05 L175.81,130.42 L176.2,130.82 L176.59,131.25 L176.98,131.71 L177.37,132.18 L177.76,132.67 L178.14,133.17 L178.53,133.67 L178.92,134.18 L179.31,134.69 L179.7,135.2 L180.09,135.7 L180.47,136.2 L180.86,136.69 L181.25,137.17 L181.64,137.64 L182.03,138.11 L182.42,138.56 L182.81,139 L183.19,139.44 L183.58,139.86 L183.97,140.27 L184.36,140.67 L184.75,141.05 L185.14,141.43 L185.52,141.8 L185.91,142.15 L186.3,142.5 L186.69,142.83 L187.08,143.15 L187.47,143.47 L187.85,143.77 L188.24,144.06 L188.63,144.35 L189.02,144.62 L189.41,144.89 L189.8,145.15 L190.19,145.4 L190.57,145.65 L190.96,145.88 L191.35,146.11 L191.74,146.33 L192.13,146.55 L192.52,146.75 L192.9,146.96 L193.29,147.15 L193.68,147.34 L194.07,147.53 L194.46,147.7 L194.85,147.88 L195.24,148.05 L195.62,148.21 L196.01,148.37 L196.4,148.52 L196.79,148.67 L197.18,148.82 L197.57,148.96 L197.95,149.1 L198.34,149.23 L198.73,149.36 L199.12,149.49 L199.51,149.61 L199.9,149.73 L200.28,149.84 L200.67,149.96 L201.06,150.07 L201.45,150.18 L201.84,150.28 L202.23,150.38 L202.62,150.48 L203,150.58 L203.39,150.67 L203.78,150.77 L204.17,150.86 L204.56,150.94 L204.95,151.03 L205.33,151.11 L205.72,151.19 L206.11,151.27 L206.5,151.35" fill="none" stroke="#4a1410" stroke-width="1.0" stroke-linejoin="round" stroke-dasharray="1.4,1.1" opacity="0.9"/>
<path d="M129.2,174.11 L129.69,173.99 L130.17,173.87 L130.66,173.75 L131.14,173.62 L131.63,173.49 L132.12,173.35 L132.6,173.22 L133.09,173.07 L133.58,172.93 L134.06,172.78 L134.55,172.62 L135.03,172.46 L135.52,172.3 L136.01,172.13 L136.49,171.95 L136.98,171.77 L137.46,171.58 L137.95,171.39 L138.44,171.19 L138.92,170.99 L139.41,170.78 L139.9,170.56 L140.38,170.34 L140.87,170.1 L141.35,169.86 L141.84,169.62 L142.33,169.36 L142.81,169.1 L143.3,168.82 L143.78,168.54 L144.27,168.25 L144.76,167.95 L145.24,167.63 L145.73,167.31 L146.22,166.98 L146.7,166.63 L147.19,166.28 L147.67,165.91 L148.16,165.53 L148.65,165.14 L149.13,164.73 L149.62,164.31 L150.11,163.88 L150.59,163.43 L151.08,162.96 L151.56,162.49 L152.05,162 L152.54,161.49 L153.02,160.97 L153.51,160.43 L153.99,159.88 L154.48,159.31 L154.97,158.72 L155.45,158.13 L155.94,157.52 L156.43,156.89 L156.91,156.25 L157.4,155.6 L157.88,154.94 L158.37,154.28 L158.86,153.6 L159.34,152.92 L159.83,152.23 L160.31,151.55 L160.8,150.87 L161.29,150.19 L161.77,149.52 L162.26,148.87 L162.75,148.23 L163.23,147.61 L163.72,147.02 L164.2,146.47 L164.69,145.94 L165.18,145.47 L165.66,145.03 L166.15,144.66 L166.63,144.34 L167.12,144.09 L167.61,143.91 L168.09,143.81 L168.58,143.82 L169.07,143.92 L169.55,144.1 L170.04,144.36 L170.52,144.68 L171.01,145.06 L171.5,145.49 L171.98,145.97 L172.47,146.49 L172.95,147.05 L173.44,147.64 L173.93,148.25 L174.41,148.88 L174.9,149.54 L175.39,150.2 L175.87,150.87 L176.36,151.55 L176.84,152.23 L177.33,152.9 L177.82,153.58 L178.3,154.25 L178.79,154.91 L179.27,155.56 L179.76,156.2 L180.25,156.83 L180.73,157.45 L181.22,158.05 L181.71,158.64 L182.19,159.21 L182.68,159.77 L183.16,160.32 L183.65,160.85 L184.14,161.36 L184.62,161.86 L185.11,162.34 L185.59,162.81 L186.08,163.26 L186.57,163.7 L187.05,164.13 L187.54,164.54 L188.03,164.94 L188.51,165.33 L189,165.7 L189.48,166.06 L189.97,166.41 L190.46,166.74 L190.94,167.07 L191.43,167.38 L191.92,167.69 L192.4,167.98 L192.89,168.26 L193.37,168.54 L193.86,168.8 L194.35,169.06 L194.83,169.31 L195.32,169.55 L195.8,169.78 L196.29,170.01 L196.78,170.22 L197.26,170.44 L197.75,170.64 L198.24,170.84 L198.72,171.03 L199.21,171.21 L199.69,171.39 L200.18,171.56 L200.67,171.73 L201.15,171.9 L201.64,172.05 L202.12,172.21 L202.61,172.35 L203.1,172.5 L203.58,172.64 L204.07,172.77 L204.56,172.91 L205.04,173.03 L205.53,173.16 L206.01,173.28 L206.5,173.39" fill="none" stroke="#bd3c2c" stroke-width="2.4" stroke-linejoin="round" opacity="0.85"/>
<path d="M129.2,174.11 L129.69,173.99 L130.17,173.87 L130.66,173.75 L131.14,173.62 L131.63,173.49 L132.12,173.35 L132.6,173.22 L133.09,173.07 L133.58,172.93 L134.06,172.78 L134.55,172.62 L135.03,172.46 L135.52,172.3 L136.01,172.13 L136.49,171.95 L136.98,171.77 L137.46,171.58 L137.95,171.39 L138.44,171.19 L138.92,170.99 L139.41,170.78 L139.9,170.56 L140.38,170.34 L140.87,170.1 L141.35,169.86 L141.84,169.62 L142.33,169.36 L142.81,169.1 L143.3,168.82 L143.78,168.54 L144.27,168.25 L144.76,167.95 L145.24,167.63 L145.73,167.31 L146.22,166.98 L146.7,166.63 L147.19,166.28 L147.67,165.91 L148.16,165.53 L148.65,165.14 L149.13,164.73 L149.62,164.31 L150.11,163.88 L150.59,163.43 L151.08,162.96 L151.56,162.49 L152.05,162 L152.54,161.49 L153.02,160.97 L153.51,160.43 L153.99,159.88 L154.48,159.31 L154.97,158.72 L155.45,158.13 L155.94,157.52 L156.43,156.89 L156.91,156.25 L157.4,155.6 L157.88,154.94 L158.37,154.28 L158.86,153.6 L159.34,152.92 L159.83,152.23 L160.31,151.55 L160.8,150.87 L161.29,150.19 L161.77,149.52 L162.26,148.87 L162.75,148.23 L163.23,147.61 L163.72,147.02 L164.2,146.47 L164.69,145.94 L165.18,145.47 L165.66,145.03 L166.15,144.66 L166.63,144.34 L167.12,144.09 L167.61,143.91 L168.09,143.81 L168.58,143.82 L169.07,143.92 L169.55,144.1 L170.04,144.36 L170.52,144.68 L171.01,145.06 L171.5,145.49 L171.98,145.97 L172.47,146.49 L172.95,147.05 L173.44,147.64 L173.93,148.25 L174.41,148.88 L174.9,149.54 L175.39,150.2 L175.87,150.87 L176.36,151.55 L176.84,152.23 L177.33,152.9 L177.82,153.58 L178.3,154.25 L178.79,154.91 L179.27,155.56 L179.76,156.2 L180.25,156.83 L180.73,157.45 L181.22,158.05 L181.71,158.64 L182.19,159.21 L182.68,159.77 L183.16,160.32 L183.65,160.85 L184.14,161.36 L184.62,161.86 L185.11,162.34 L185.59,162.81 L186.08,163.26 L186.57,163.7 L187.05,164.13 L187.54,164.54 L188.03,164.94 L188.51,165.33 L189,165.7 L189.48,166.06 L189.97,166.41 L190.46,166.74 L190.94,167.07 L191.43,167.38 L191.92,167.69 L192.4,167.98 L192.89,168.26 L193.37,168.54 L193.86,168.8 L194.35,169.06 L194.83,169.31 L195.32,169.55 L195.8,169.78 L196.29,170.01 L196.78,170.22 L197.26,170.44 L197.75,170.64 L198.24,170.84 L198.72,171.03 L199.21,171.21 L199.69,171.39 L200.18,171.56 L200.67,171.73 L201.15,171.9 L201.64,172.05 L202.12,172.21 L202.61,172.35 L203.1,172.5 L203.58,172.64 L204.07,172.77 L204.56,172.91 L205.04,173.03 L205.53,173.16 L206.01,173.28 L206.5,173.39" fill="none" stroke="#4a1410" stroke-width="1.0" stroke-linejoin="round" stroke-dasharray="1.4,1.1" opacity="0.9"/>
<path d="M129.2,198.41 L129.69,198.3 L130.17,198.19 L130.66,198.07 L131.14,197.96 L131.63,197.84 L132.12,197.71 L132.6,197.58 L133.09,197.45 L133.58,197.32 L134.06,197.18 L134.55,197.03 L135.03,196.88 L135.52,196.73 L136.01,196.57 L136.49,196.41 L136.98,196.24 L137.46,196.07 L137.95,195.89 L138.44,195.71 L138.92,195.52 L139.41,195.32 L139.9,195.12 L140.38,194.91 L140.87,194.7 L141.35,194.48 L141.84,194.25 L142.33,194.01 L142.81,193.77 L143.3,193.52 L143.78,193.26 L144.27,192.99 L144.76,192.71 L145.24,192.43 L145.73,192.13 L146.22,191.83 L146.7,191.52 L147.19,191.19 L147.67,190.86 L148.16,190.51 L148.65,190.16 L149.13,189.8 L149.62,189.42 L150.11,189.03 L150.59,188.63 L151.08,188.22 L151.56,187.8 L152.05,187.37 L152.54,186.92 L153.02,186.46 L153.51,186 L153.99,185.52 L154.48,185.03 L154.97,184.53 L155.45,184.01 L155.94,183.49 L156.43,182.96 L156.91,182.43 L157.4,181.88 L157.88,181.33 L158.37,180.78 L158.86,180.22 L159.34,179.66 L159.83,179.1 L160.31,178.54 L160.8,177.99 L161.29,177.45 L161.77,176.92 L162.26,176.4 L162.75,175.89 L163.23,175.41 L163.72,174.95 L164.2,174.52 L164.69,174.12 L165.18,173.75 L165.66,173.42 L166.15,173.14 L166.63,172.9 L167.12,172.71 L167.61,172.58 L168.09,172.51 L168.58,172.52 L169.07,172.61 L169.55,172.76 L170.04,172.97 L170.52,173.23 L171.01,173.53 L171.5,173.88 L171.98,174.26 L172.47,174.68 L172.95,175.13 L173.44,175.6 L173.93,176.1 L174.41,176.62 L174.9,177.15 L175.39,177.7 L175.87,178.25 L176.36,178.81 L176.84,179.38 L177.33,179.95 L177.82,180.52 L178.3,181.09 L178.79,181.66 L179.27,182.22 L179.76,182.77 L180.25,183.32 L180.73,183.86 L181.22,184.39 L181.71,184.91 L182.19,185.42 L182.68,185.92 L183.16,186.41 L183.65,186.89 L184.14,187.36 L184.62,187.81 L185.11,188.26 L185.59,188.69 L186.08,189.11 L186.57,189.52 L187.05,189.91 L187.54,190.3 L188.03,190.67 L188.51,191.04 L189,191.39 L189.48,191.73 L189.97,192.07 L190.46,192.39 L190.94,192.7 L191.43,193.01 L191.92,193.3 L192.4,193.59 L192.89,193.87 L193.37,194.14 L193.86,194.4 L194.35,194.65 L194.83,194.9 L195.32,195.14 L195.8,195.37 L196.29,195.6 L196.78,195.81 L197.26,196.03 L197.75,196.23 L198.24,196.43 L198.72,196.63 L199.21,196.82 L199.69,197 L200.18,197.18 L200.67,197.35 L201.15,197.52 L201.64,197.68 L202.12,197.84 L202.61,198 L203.1,198.15 L203.58,198.29 L204.07,198.44 L204.56,198.57 L205.04,198.71 L205.53,198.84 L206.01,198.97 L206.5,199.09" fill="none" stroke="#bd3c2c" stroke-width="2.4" stroke-linejoin="round" opacity="0.85"/>
<path d="M129.2,198.41 L129.69,198.3 L130.17,198.19 L130.66,198.07 L131.14,197.96 L131.63,197.84 L132.12,197.71 L132.6,197.58 L133.09,197.45 L133.58,197.32 L134.06,197.18 L134.55,197.03 L135.03,196.88 L135.52,196.73 L136.01,196.57 L136.49,196.41 L136.98,196.24 L137.46,196.07 L137.95,195.89 L138.44,195.71 L138.92,195.52 L139.41,195.32 L139.9,195.12 L140.38,194.91 L140.87,194.7 L141.35,194.48 L141.84,194.25 L142.33,194.01 L142.81,193.77 L143.3,193.52 L143.78,193.26 L144.27,192.99 L144.76,192.71 L145.24,192.43 L145.73,192.13 L146.22,191.83 L146.7,191.52 L147.19,191.19 L147.67,190.86 L148.16,190.51 L148.65,190.16 L149.13,189.8 L149.62,189.42 L150.11,189.03 L150.59,188.63 L151.08,188.22 L151.56,187.8 L152.05,187.37 L152.54,186.92 L153.02,186.46 L153.51,186 L153.99,185.52 L154.48,185.03 L154.97,184.53 L155.45,184.01 L155.94,183.49 L156.43,182.96 L156.91,182.43 L157.4,181.88 L157.88,181.33 L158.37,180.78 L158.86,180.22 L159.34,179.66 L159.83,179.1 L160.31,178.54 L160.8,177.99 L161.29,177.45 L161.77,176.92 L162.26,176.4 L162.75,175.89 L163.23,175.41 L163.72,174.95 L164.2,174.52 L164.69,174.12 L165.18,173.75 L165.66,173.42 L166.15,173.14 L166.63,172.9 L167.12,172.71 L167.61,172.58 L168.09,172.51 L168.58,172.52 L169.07,172.61 L169.55,172.76 L170.04,172.97 L170.52,173.23 L171.01,173.53 L171.5,173.88 L171.98,174.26 L172.47,174.68 L172.95,175.13 L173.44,175.6 L173.93,176.1 L174.41,176.62 L174.9,177.15 L175.39,177.7 L175.87,178.25 L176.36,178.81 L176.84,179.38 L177.33,179.95 L177.82,180.52 L178.3,181.09 L178.79,181.66 L179.27,182.22 L179.76,182.77 L180.25,183.32 L180.73,183.86 L181.22,184.39 L181.71,184.91 L182.19,185.42 L182.68,185.92 L183.16,186.41 L183.65,186.89 L184.14,187.36 L184.62,187.81 L185.11,188.26 L185.59,188.69 L186.08,189.11 L186.57,189.52 L187.05,189.91 L187.54,190.3 L188.03,190.67 L188.51,191.04 L189,191.39 L189.48,191.73 L189.97,192.07 L190.46,192.39 L190.94,192.7 L191.43,193.01 L191.92,193.3 L192.4,193.59 L192.89,193.87 L193.37,194.14 L193.86,194.4 L194.35,194.65 L194.83,194.9 L195.32,195.14 L195.8,195.37 L196.29,195.6 L196.78,195.81 L197.26,196.03 L197.75,196.23 L198.24,196.43 L198.72,196.63 L199.21,196.82 L199.69,197 L200.18,197.18 L200.67,197.35 L201.15,197.52 L201.64,197.68 L202.12,197.84 L202.61,198 L203.1,198.15 L203.58,198.29 L204.07,198.44 L204.56,198.57 L205.04,198.71 L205.53,198.84 L206.01,198.97 L206.5,199.09" fill="none" stroke="#4a1410" stroke-width="1.0" stroke-linejoin="round" stroke-dasharray="1.4,1.1" opacity="0.9"/>
<path d="M129.2,259.41 L129.59,259.37 L129.98,259.33 L130.37,259.29 L130.75,259.25 L131.14,259.21 L131.53,259.16 L131.92,259.11 L132.31,259.07 L132.7,259.02 L133.08,258.96 L133.47,258.91 L133.86,258.85 L134.25,258.8 L134.64,258.73 L135.03,258.67 L135.42,258.61 L135.8,258.54 L136.19,258.47 L136.58,258.39 L136.97,258.31 L137.36,258.23 L137.75,258.15 L138.13,258.06 L138.52,257.97 L138.91,257.87 L139.3,257.77 L139.69,257.66 L140.08,257.55 L140.46,257.43 L140.85,257.31 L141.24,257.18 L141.63,257.05 L142.02,256.9 L142.41,256.75 L142.8,256.59 L143.18,256.42 L143.57,256.24 L143.96,256.05 L144.35,255.85 L144.74,255.63 L145.13,255.41 L145.51,255.16 L145.9,254.91 L146.29,254.63 L146.68,254.34 L147.07,254.02 L147.46,253.68 L147.85,253.32 L148.23,252.93 L148.62,252.51 L149.01,252.05 L149.4,251.56 L149.79,251.03 L150.18,250.45 L150.56,249.82 L150.95,249.14 L151.34,248.39 L151.73,247.58 L152.12,246.69 L152.51,245.72 L152.89,244.65 L153.28,243.47 L153.67,242.18 L154.06,240.77 L154.45,239.22 L154.84,237.52 L155.23,235.66 L155.61,233.66 L156,231.5 L156.39,229.22 L156.78,226.86 L157.17,224.48 L157.56,222.2 L157.94,220.2 L158.33,218.75 L158.55,218.39 L158.72,218.4 L159.11,218.6 L159.5,219.17 L159.89,220.2 L160.28,221.71 L160.66,223.66 L161.05,225.98 L161.44,228.58 L161.83,231.34 L162.22,234.14 L162.61,236.9 L162.99,239.55 L163.38,242.05 L163.77,244.35 L164.16,246.46 L164.55,248.37 L164.94,250.09 L165.33,251.63 L165.71,253 L166.1,254.23 L166.49,255.32 L166.88,256.29 L167.27,257.16 L167.66,257.93 L168.04,258.62 L168.3,259.04 L168.43,258.83 L168.82,258.16 L169.21,257.42 L169.6,256.58 L169.99,255.64 L170.37,254.59 L170.76,253.41 L171.15,252.09 L171.54,250.6 L171.93,248.94 L172.32,247.1 L172.71,245.05 L173.09,242.81 L173.48,240.38 L173.87,237.77 L174.26,235.04 L174.65,232.24 L175.04,229.46 L175.42,226.8 L175.81,224.38 L176.2,222.3 L176.59,220.65 L176.98,219.47 L177.37,218.76 L177.76,218.46 L178.05,218.41 L178.14,218.51 L178.53,219.69 L178.92,221.56 L179.31,223.77 L179.7,226.13 L180.09,228.51 L180.47,230.82 L180.86,233.02 L181.25,235.08 L181.64,236.98 L182.03,238.73 L182.42,240.33 L182.81,241.79 L183.19,243.12 L183.58,244.33 L183.97,245.43 L184.36,246.43 L184.75,247.35 L185.14,248.19 L185.52,248.95 L185.91,249.66 L186.3,250.3 L186.69,250.9 L187.08,251.44 L187.47,251.95 L187.85,252.42 L188.24,252.85 L188.63,253.25 L189.02,253.62 L189.41,253.97 L189.8,254.29 L190.19,254.6 L190.57,254.88 L190.96,255.14 L191.35,255.39 L191.74,255.62 L192.13,255.84 L192.52,256.05 L192.9,256.25 L193.29,256.43 L193.68,256.6 L194.07,256.77 L194.46,256.92 L194.85,257.07 L195.24,257.21 L195.62,257.34 L196.01,257.47 L196.4,257.59 L196.79,257.7 L197.18,257.81 L197.57,257.92 L197.95,258.01 L198.34,258.11 L198.73,258.2 L199.12,258.29 L199.51,258.37 L199.9,258.45 L200.28,258.53 L200.67,258.6 L201.06,258.67 L201.45,258.74 L201.84,258.8 L202.23,258.86 L202.62,258.92 L203,258.98 L203.39,259.04 L203.78,259.09 L204.17,259.14 L204.56,259.19 L204.95,259.24 L205.33,259.29 L205.72,259.33 L206.11,259.38 L206.5,259.42" fill="none" stroke="#3a3e92" stroke-width="2.1" stroke-linejoin="round" opacity="0.85"/>
<path d="M129.2,259.41 L129.59,259.37 L129.98,259.33 L130.37,259.29 L130.75,259.25 L131.14,259.21 L131.53,259.16 L131.92,259.11 L132.31,259.07 L132.7,259.02 L133.08,258.96 L133.47,258.91 L133.86,258.85 L134.25,258.8 L134.64,258.73 L135.03,258.67 L135.42,258.61 L135.8,258.54 L136.19,258.47 L136.58,258.39 L136.97,258.31 L137.36,258.23 L137.75,258.15 L138.13,258.06 L138.52,257.97 L138.91,257.87 L139.3,257.77 L139.69,257.66 L140.08,257.55 L140.46,257.43 L140.85,257.31 L141.24,257.18 L141.63,257.05 L142.02,256.9 L142.41,256.75 L142.8,256.59 L143.18,256.42 L143.57,256.24 L143.96,256.05 L144.35,255.85 L144.74,255.63 L145.13,255.41 L145.51,255.16 L145.9,254.91 L146.29,254.63 L146.68,254.34 L147.07,254.02 L147.46,253.68 L147.85,253.32 L148.23,252.93 L148.62,252.51 L149.01,252.05 L149.4,251.56 L149.79,251.03 L150.18,250.45 L150.56,249.82 L150.95,249.14 L151.34,248.39 L151.73,247.58 L152.12,246.69 L152.51,245.72 L152.89,244.65 L153.28,243.47 L153.67,242.18 L154.06,240.77 L154.45,239.22 L154.84,237.52 L155.23,235.66 L155.61,233.66 L156,231.5 L156.39,229.22 L156.78,226.86 L157.17,224.48 L157.56,222.2 L157.94,220.2 L158.33,218.75 L158.55,218.39 L158.72,218.4 L159.11,218.6 L159.5,219.17 L159.89,220.2 L160.28,221.71 L160.66,223.66 L161.05,225.98 L161.44,228.58 L161.83,231.34 L162.22,234.14 L162.61,236.9 L162.99,239.55 L163.38,242.05 L163.77,244.35 L164.16,246.46 L164.55,248.37 L164.94,250.09 L165.33,251.63 L165.71,253 L166.1,254.23 L166.49,255.32 L166.88,256.29 L167.27,257.16 L167.66,257.93 L168.04,258.62 L168.3,259.04 L168.43,258.83 L168.82,258.16 L169.21,257.42 L169.6,256.58 L169.99,255.64 L170.37,254.59 L170.76,253.41 L171.15,252.09 L171.54,250.6 L171.93,248.94 L172.32,247.1 L172.71,245.05 L173.09,242.81 L173.48,240.38 L173.87,237.77 L174.26,235.04 L174.65,232.24 L175.04,229.46 L175.42,226.8 L175.81,224.38 L176.2,222.3 L176.59,220.65 L176.98,219.47 L177.37,218.76 L177.76,218.46 L178.05,218.41 L178.14,218.51 L178.53,219.69 L178.92,221.56 L179.31,223.77 L179.7,226.13 L180.09,228.51 L180.47,230.82 L180.86,233.02 L181.25,235.08 L181.64,236.98 L182.03,238.73 L182.42,240.33 L182.81,241.79 L183.19,243.12 L183.58,244.33 L183.97,245.43 L184.36,246.43 L184.75,247.35 L185.14,248.19 L185.52,248.95 L185.91,249.66 L186.3,250.3 L186.69,250.9 L187.08,251.44 L187.47,251.95 L187.85,252.42 L188.24,252.85 L188.63,253.25 L189.02,253.62 L189.41,253.97 L189.8,254.29 L190.19,254.6 L190.57,254.88 L190.96,255.14 L191.35,255.39 L191.74,255.62 L192.13,255.84 L192.52,256.05 L192.9,256.25 L193.29,256.43 L193.68,256.6 L194.07,256.77 L194.46,256.92 L194.85,257.07 L195.24,257.21 L195.62,257.34 L196.01,257.47 L196.4,257.59 L196.79,257.7 L197.18,257.81 L197.57,257.92 L197.95,258.01 L198.34,258.11 L198.73,258.2 L199.12,258.29 L199.51,258.37 L199.9,258.45 L200.28,258.53 L200.67,258.6 L201.06,258.67 L201.45,258.74 L201.84,258.8 L202.23,258.86 L202.62,258.92 L203,258.98 L203.39,259.04 L203.78,259.09 L204.17,259.14 L204.56,259.19 L204.95,259.24 L205.33,259.29 L205.72,259.33 L206.11,259.38 L206.5,259.42" fill="none" stroke="#101238" stroke-width="1.0" stroke-linejoin="round" stroke-dasharray="1.4,1.1" opacity="0.9"/>
<path d="M129.2,285.01 L129.59,284.96 L129.98,284.9 L130.37,284.84 L130.75,284.78 L131.14,284.72 L131.53,284.66 L131.92,284.59 L132.31,284.52 L132.7,284.45 L133.08,284.38 L133.47,284.3 L133.86,284.22 L134.25,284.14 L134.64,284.05 L135.03,283.96 L135.42,283.87 L135.8,283.78 L136.19,283.68 L136.58,283.57 L136.97,283.47 L137.36,283.35 L137.75,283.24 L138.13,283.12 L138.52,282.99 L138.91,282.86 L139.3,282.72 L139.69,282.57 L140.08,282.42 L140.46,282.26 L140.85,282.1 L141.24,281.93 L141.63,281.74 L142.02,281.55 L142.41,281.35 L142.8,281.14 L143.18,280.92 L143.57,280.69 L143.96,280.44 L144.35,280.18 L144.74,279.91 L145.13,279.62 L145.51,279.32 L145.9,278.99 L146.29,278.65 L146.68,278.29 L147.07,277.9 L147.46,277.5 L147.85,277.06 L148.23,276.6 L148.62,276.11 L149.01,275.58 L149.4,275.02 L149.79,274.42 L150.18,273.78 L150.56,273.1 L150.95,272.37 L151.34,271.59 L151.73,270.75 L152.12,269.86 L152.51,268.9 L152.89,267.88 L153.28,266.78 L153.67,265.62 L154.06,264.38 L154.45,263.07 L154.84,261.69 L155.23,260.24 L155.61,258.73 L156,257.19 L156.39,255.62 L156.78,254.07 L157.17,252.58 L157.56,251.2 L157.94,250.03 L158.33,249.17 L158.6,248.9 L158.72,248.9 L159.11,249.05 L159.5,249.51 L159.89,250.36 L160.28,251.63 L160.66,253.3 L161.05,255.3 L161.44,257.56 L161.83,259.96 L162.22,262.41 L162.61,264.83 L162.99,267.16 L163.38,269.35 L163.77,271.38 L164.16,273.24 L164.55,274.91 L164.94,276.43 L165.33,277.78 L165.71,278.98 L166.1,280.06 L166.49,281.02 L166.88,281.87 L167.27,282.63 L167.66,283.31 L168.04,283.91 L168.3,284.28 L168.43,284.09 L168.82,283.51 L169.21,282.85 L169.6,282.12 L169.99,281.3 L170.37,280.38 L170.76,279.34 L171.15,278.18 L171.54,276.87 L171.93,275.41 L172.32,273.79 L172.71,271.99 L173.09,270.01 L173.48,267.87 L173.87,265.58 L174.26,263.19 L174.65,260.73 L175.04,258.31 L175.42,256 L175.81,253.9 L176.2,252.12 L176.59,250.71 L176.98,249.73 L177.37,249.15 L177.76,248.92 L178,248.9 L178.14,249 L178.53,249.72 L178.92,250.81 L179.31,252.13 L179.7,253.59 L180.09,255.13 L180.47,256.69 L180.86,258.25 L181.25,259.77 L181.64,261.23 L182.03,262.64 L182.42,263.97 L182.81,265.24 L183.19,266.42 L183.58,267.54 L183.97,268.58 L184.36,269.56 L184.75,270.48 L185.14,271.33 L185.52,272.13 L185.91,272.88 L186.3,273.57 L186.69,274.23 L187.08,274.84 L187.47,275.41 L187.85,275.94 L188.24,276.45 L188.63,276.92 L189.02,277.36 L189.41,277.78 L189.8,278.17 L190.19,278.54 L190.57,278.89 L190.96,279.22 L191.35,279.53 L191.74,279.82 L192.13,280.1 L192.52,280.36 L192.9,280.61 L193.29,280.85 L193.68,281.07 L194.07,281.29 L194.46,281.49 L194.85,281.68 L195.24,281.87 L195.62,282.05 L196.01,282.21 L196.4,282.37 L196.79,282.53 L197.18,282.67 L197.57,282.81 L197.95,282.95 L198.34,283.08 L198.73,283.2 L199.12,283.32 L199.51,283.43 L199.9,283.54 L200.28,283.64 L200.67,283.75 L201.06,283.84 L201.45,283.94 L201.84,284.02 L202.23,284.11 L202.62,284.19 L203,284.27 L203.39,284.35 L203.78,284.43 L204.17,284.5 L204.56,284.57 L204.95,284.64 L205.33,284.7 L205.72,284.76 L206.11,284.83 L206.5,284.88" fill="none" stroke="#3a3e92" stroke-width="2.1" stroke-linejoin="round" opacity="0.85"/>
<path d="M129.2,285.01 L129.59,284.96 L129.98,284.9 L130.37,284.84 L130.75,284.78 L131.14,284.72 L131.53,284.66 L131.92,284.59 L132.31,284.52 L132.7,284.45 L133.08,284.38 L133.47,284.3 L133.86,284.22 L134.25,284.14 L134.64,284.05 L135.03,283.96 L135.42,283.87 L135.8,283.78 L136.19,283.68 L136.58,283.57 L136.97,283.47 L137.36,283.35 L137.75,283.24 L138.13,283.12 L138.52,282.99 L138.91,282.86 L139.3,282.72 L139.69,282.57 L140.08,282.42 L140.46,282.26 L140.85,282.1 L141.24,281.93 L141.63,281.74 L142.02,281.55 L142.41,281.35 L142.8,281.14 L143.18,280.92 L143.57,280.69 L143.96,280.44 L144.35,280.18 L144.74,279.91 L145.13,279.62 L145.51,279.32 L145.9,278.99 L146.29,278.65 L146.68,278.29 L147.07,277.9 L147.46,277.5 L147.85,277.06 L148.23,276.6 L148.62,276.11 L149.01,275.58 L149.4,275.02 L149.79,274.42 L150.18,273.78 L150.56,273.1 L150.95,272.37 L151.34,271.59 L151.73,270.75 L152.12,269.86 L152.51,268.9 L152.89,267.88 L153.28,266.78 L153.67,265.62 L154.06,264.38 L154.45,263.07 L154.84,261.69 L155.23,260.24 L155.61,258.73 L156,257.19 L156.39,255.62 L156.78,254.07 L157.17,252.58 L157.56,251.2 L157.94,250.03 L158.33,249.17 L158.6,248.9 L158.72,248.9 L159.11,249.05 L159.5,249.51 L159.89,250.36 L160.28,251.63 L160.66,253.3 L161.05,255.3 L161.44,257.56 L161.83,259.96 L162.22,262.41 L162.61,264.83 L162.99,267.16 L163.38,269.35 L163.77,271.38 L164.16,273.24 L164.55,274.91 L164.94,276.43 L165.33,277.78 L165.71,278.98 L166.1,280.06 L166.49,281.02 L166.88,281.87 L167.27,282.63 L167.66,283.31 L168.04,283.91 L168.3,284.28 L168.43,284.09 L168.82,283.51 L169.21,282.85 L169.6,282.12 L169.99,281.3 L170.37,280.38 L170.76,279.34 L171.15,278.18 L171.54,276.87 L171.93,275.41 L172.32,273.79 L172.71,271.99 L173.09,270.01 L173.48,267.87 L173.87,265.58 L174.26,263.19 L174.65,260.73 L175.04,258.31 L175.42,256 L175.81,253.9 L176.2,252.12 L176.59,250.71 L176.98,249.73 L177.37,249.15 L177.76,248.92 L178,248.9 L178.14,249 L178.53,249.72 L178.92,250.81 L179.31,252.13 L179.7,253.59 L180.09,255.13 L180.47,256.69 L180.86,258.25 L181.25,259.77 L181.64,261.23 L182.03,262.64 L182.42,263.97 L182.81,265.24 L183.19,266.42 L183.58,267.54 L183.97,268.58 L184.36,269.56 L184.75,270.48 L185.14,271.33 L185.52,272.13 L185.91,272.88 L186.3,273.57 L186.69,274.23 L187.08,274.84 L187.47,275.41 L187.85,275.94 L188.24,276.45 L188.63,276.92 L189.02,277.36 L189.41,277.78 L189.8,278.17 L190.19,278.54 L190.57,278.89 L190.96,279.22 L191.35,279.53 L191.74,279.82 L192.13,280.1 L192.52,280.36 L192.9,280.61 L193.29,280.85 L193.68,281.07 L194.07,281.29 L194.46,281.49 L194.85,281.68 L195.24,281.87 L195.62,282.05 L196.01,282.21 L196.4,282.37 L196.79,282.53 L197.18,282.67 L197.57,282.81 L197.95,282.95 L198.34,283.08 L198.73,283.2 L199.12,283.32 L199.51,283.43 L199.9,283.54 L200.28,283.64 L200.67,283.75 L201.06,283.84 L201.45,283.94 L201.84,284.02 L202.23,284.11 L202.62,284.19 L203,284.27 L203.39,284.35 L203.78,284.43 L204.17,284.5 L204.56,284.57 L204.95,284.64 L205.33,284.7 L205.72,284.76 L206.11,284.83 L206.5,284.88" fill="none" stroke="#101238" stroke-width="1.0" stroke-linejoin="round" stroke-dasharray="1.4,1.1" opacity="0.9"/>
<path d="M129.2,308.01 L129.59,307.96 L129.98,307.9 L130.37,307.84 L130.75,307.77 L131.14,307.71 L131.53,307.64 L131.92,307.57 L132.31,307.5 L132.7,307.43 L133.08,307.35 L133.47,307.28 L133.86,307.2 L134.25,307.11 L134.64,307.03 L135.03,306.94 L135.42,306.85 L135.8,306.75 L136.19,306.66 L136.58,306.55 L136.97,306.45 L137.36,306.34 L137.75,306.23 L138.13,306.11 L138.52,305.99 L138.91,305.86 L139.3,305.73 L139.69,305.59 L140.08,305.45 L140.46,305.3 L140.85,305.14 L141.24,304.98 L141.63,304.81 L142.02,304.63 L142.41,304.44 L142.8,304.25 L143.18,304.05 L143.57,303.83 L143.96,303.61 L144.35,303.38 L144.74,303.13 L145.13,302.87 L145.51,302.6 L145.9,302.31 L146.29,302.01 L146.68,301.7 L147.07,301.36 L147.46,301.01 L147.85,300.64 L148.23,300.24 L148.62,299.82 L149.01,299.38 L149.4,298.92 L149.79,298.42 L150.18,297.9 L150.56,297.35 L150.95,296.76 L151.34,296.14 L151.73,295.49 L152.12,294.79 L152.51,294.06 L152.89,293.29 L153.28,292.48 L153.67,291.62 L154.06,290.73 L154.45,289.8 L154.84,288.83 L155.23,287.84 L155.61,286.83 L156,285.81 L156.39,284.8 L156.78,283.81 L157.17,282.88 L157.56,282.03 L157.94,281.32 L158.33,280.81 L158.6,280.64 L158.72,280.64 L159.11,280.75 L159.5,281.08 L159.89,281.71 L160.28,282.65 L160.66,283.89 L161.05,285.38 L161.44,287.05 L161.83,288.83 L162.22,290.66 L162.61,292.45 L162.99,294.18 L163.38,295.81 L163.77,297.32 L164.16,298.69 L164.55,299.94 L164.94,301.06 L165.33,302.06 L165.71,302.95 L166.1,303.75 L166.49,304.45 L166.88,305.08 L167.27,305.64 L167.66,306.14 L168.04,306.59 L168.3,306.86 L168.43,306.71 L168.82,306.27 L169.21,305.78 L169.6,305.23 L169.99,304.61 L170.37,303.92 L170.76,303.14 L171.15,302.26 L171.54,301.28 L171.93,300.19 L172.32,298.98 L172.71,297.63 L173.09,296.15 L173.48,294.55 L173.87,292.84 L174.26,291.05 L174.65,289.21 L175.04,287.4 L175.42,285.67 L175.81,284.1 L176.2,282.77 L176.59,281.72 L176.98,280.98 L177.37,280.54 L177.76,280.36 L178,280.34 L178.14,280.4 L178.53,280.82 L178.92,281.46 L179.31,282.26 L179.7,283.15 L180.09,284.11 L180.47,285.11 L180.86,286.12 L181.25,287.12 L181.64,288.11 L182.03,289.07 L182.42,290 L182.81,290.89 L183.19,291.75 L183.58,292.56 L183.97,293.33 L184.36,294.07 L184.75,294.76 L185.14,295.42 L185.52,296.04 L185.91,296.62 L186.3,297.17 L186.69,297.69 L187.08,298.18 L187.47,298.64 L187.85,299.08 L188.24,299.49 L188.63,299.88 L189.02,300.25 L189.41,300.6 L189.8,300.92 L190.19,301.24 L190.57,301.53 L190.96,301.81 L191.35,302.07 L191.74,302.32 L192.13,302.56 L192.52,302.79 L192.9,303 L193.29,303.21 L193.68,303.4 L194.07,303.58 L194.46,303.76 L194.85,303.93 L195.24,304.09 L195.62,304.24 L196.01,304.39 L196.4,304.53 L196.79,304.66 L197.18,304.79 L197.57,304.91 L197.95,305.03 L198.34,305.14 L198.73,305.24 L199.12,305.35 L199.51,305.45 L199.9,305.54 L200.28,305.63 L200.67,305.72 L201.06,305.8 L201.45,305.88 L201.84,305.96 L202.23,306.03 L202.62,306.1 L203,306.17 L203.39,306.24 L203.78,306.3 L204.17,306.37 L204.56,306.42 L204.95,306.48 L205.33,306.54 L205.72,306.59 L206.11,306.64 L206.5,306.69" fill="none" stroke="#3a3e92" stroke-width="2.1" stroke-linejoin="round" opacity="0.85"/>
<path d="M129.2,308.01 L129.59,307.96 L129.98,307.9 L130.37,307.84 L130.75,307.77 L131.14,307.71 L131.53,307.64 L131.92,307.57 L132.31,307.5 L132.7,307.43 L133.08,307.35 L133.47,307.28 L133.86,307.2 L134.25,307.11 L134.64,307.03 L135.03,306.94 L135.42,306.85 L135.8,306.75 L136.19,306.66 L136.58,306.55 L136.97,306.45 L137.36,306.34 L137.75,306.23 L138.13,306.11 L138.52,305.99 L138.91,305.86 L139.3,305.73 L139.69,305.59 L140.08,305.45 L140.46,305.3 L140.85,305.14 L141.24,304.98 L141.63,304.81 L142.02,304.63 L142.41,304.44 L142.8,304.25 L143.18,304.05 L143.57,303.83 L143.96,303.61 L144.35,303.38 L144.74,303.13 L145.13,302.87 L145.51,302.6 L145.9,302.31 L146.29,302.01 L146.68,301.7 L147.07,301.36 L147.46,301.01 L147.85,300.64 L148.23,300.24 L148.62,299.82 L149.01,299.38 L149.4,298.92 L149.79,298.42 L150.18,297.9 L150.56,297.35 L150.95,296.76 L151.34,296.14 L151.73,295.49 L152.12,294.79 L152.51,294.06 L152.89,293.29 L153.28,292.48 L153.67,291.62 L154.06,290.73 L154.45,289.8 L154.84,288.83 L155.23,287.84 L155.61,286.83 L156,285.81 L156.39,284.8 L156.78,283.81 L157.17,282.88 L157.56,282.03 L157.94,281.32 L158.33,280.81 L158.6,280.64 L158.72,280.64 L159.11,280.75 L159.5,281.08 L159.89,281.71 L160.28,282.65 L160.66,283.89 L161.05,285.38 L161.44,287.05 L161.83,288.83 L162.22,290.66 L162.61,292.45 L162.99,294.18 L163.38,295.81 L163.77,297.32 L164.16,298.69 L164.55,299.94 L164.94,301.06 L165.33,302.06 L165.71,302.95 L166.1,303.75 L166.49,304.45 L166.88,305.08 L167.27,305.64 L167.66,306.14 L168.04,306.59 L168.3,306.86 L168.43,306.71 L168.82,306.27 L169.21,305.78 L169.6,305.23 L169.99,304.61 L170.37,303.92 L170.76,303.14 L171.15,302.26 L171.54,301.28 L171.93,300.19 L172.32,298.98 L172.71,297.63 L173.09,296.15 L173.48,294.55 L173.87,292.84 L174.26,291.05 L174.65,289.21 L175.04,287.4 L175.42,285.67 L175.81,284.1 L176.2,282.77 L176.59,281.72 L176.98,280.98 L177.37,280.54 L177.76,280.36 L178,280.34 L178.14,280.4 L178.53,280.82 L178.92,281.46 L179.31,282.26 L179.7,283.15 L180.09,284.11 L180.47,285.11 L180.86,286.12 L181.25,287.12 L181.64,288.11 L182.03,289.07 L182.42,290 L182.81,290.89 L183.19,291.75 L183.58,292.56 L183.97,293.33 L184.36,294.07 L184.75,294.76 L185.14,295.42 L185.52,296.04 L185.91,296.62 L186.3,297.17 L186.69,297.69 L187.08,298.18 L187.47,298.64 L187.85,299.08 L188.24,299.49 L188.63,299.88 L189.02,300.25 L189.41,300.6 L189.8,300.92 L190.19,301.24 L190.57,301.53 L190.96,301.81 L191.35,302.07 L191.74,302.32 L192.13,302.56 L192.52,302.79 L192.9,303 L193.29,303.21 L193.68,303.4 L194.07,303.58 L194.46,303.76 L194.85,303.93 L195.24,304.09 L195.62,304.24 L196.01,304.39 L196.4,304.53 L196.79,304.66 L197.18,304.79 L197.57,304.91 L197.95,305.03 L198.34,305.14 L198.73,305.24 L199.12,305.35 L199.51,305.45 L199.9,305.54 L200.28,305.63 L200.67,305.72 L201.06,305.8 L201.45,305.88 L201.84,305.96 L202.23,306.03 L202.62,306.1 L203,306.17 L203.39,306.24 L203.78,306.3 L204.17,306.37 L204.56,306.42 L204.95,306.48 L205.33,306.54 L205.72,306.59 L206.11,306.64 L206.5,306.69" fill="none" stroke="#101238" stroke-width="1.0" stroke-linejoin="round" stroke-dasharray="1.4,1.1" opacity="0.9"/>
<path d="M129.2,332.81 L129.59,332.77 L129.98,332.74 L130.37,332.7 L130.75,332.66 L131.14,332.62 L131.53,332.58 L131.92,332.54 L132.31,332.49 L132.7,332.45 L133.08,332.4 L133.47,332.35 L133.86,332.3 L134.25,332.25 L134.64,332.2 L135.03,332.14 L135.42,332.08 L135.8,332.02 L136.19,331.96 L136.58,331.89 L136.97,331.82 L137.36,331.75 L137.75,331.68 L138.13,331.6 L138.52,331.52 L138.91,331.44 L139.3,331.35 L139.69,331.26 L140.08,331.17 L140.46,331.07 L140.85,330.96 L141.24,330.85 L141.63,330.74 L142.02,330.62 L142.41,330.5 L142.8,330.37 L143.18,330.23 L143.57,330.08 L143.96,329.93 L144.35,329.77 L144.74,329.6 L145.13,329.42 L145.51,329.24 L145.9,329.04 L146.29,328.83 L146.68,328.61 L147.07,328.37 L147.46,328.12 L147.85,327.86 L148.23,327.58 L148.62,327.28 L149.01,326.96 L149.4,326.63 L149.79,326.27 L150.18,325.88 L150.56,325.47 L150.95,325.03 L151.34,324.56 L151.73,324.06 L152.12,323.53 L152.51,322.95 L152.89,322.33 L153.28,321.67 L153.67,320.96 L154.06,320.21 L154.45,319.4 L154.84,318.53 L155.23,317.61 L155.61,316.64 L156,315.61 L156.39,314.53 L156.78,313.41 L157.17,312.26 L157.56,311.1 L157.94,309.95 L158.33,308.85 L158.72,307.84 L159.11,307 L159.5,306.41 L159.7,306.28 L159.89,306.29 L160.28,306.48 L160.66,306.99 L161.05,307.88 L161.44,309.15 L161.83,310.75 L162.22,312.59 L162.61,314.57 L162.99,316.59 L163.38,318.57 L163.77,320.44 L164.16,322.16 L164.55,323.73 L164.94,325.14 L165.33,326.39 L165.71,327.49 L166.1,328.46 L166.49,329.31 L166.88,330.06 L167.27,330.72 L167.66,331.29 L168.04,331.8 L168.3,332.1 L168.43,331.95 L168.82,331.47 L169.21,330.91 L169.6,330.29 L169.99,329.57 L170.37,328.76 L170.76,327.83 L171.15,326.77 L171.54,325.57 L171.93,324.22 L172.32,322.7 L172.71,321.02 L173.09,319.2 L173.48,317.25 L173.87,315.24 L174.26,313.24 L174.65,311.35 L175.04,309.66 L175.42,308.28 L175.81,307.27 L176.2,306.64 L176.59,306.36 L176.9,306.32 L176.98,306.35 L177.37,306.82 L177.76,307.6 L178.14,308.57 L178.53,309.65 L178.92,310.79 L179.31,311.95 L179.7,313.11 L180.09,314.24 L180.47,315.34 L180.86,316.38 L181.25,317.38 L181.64,318.32 L182.03,319.2 L182.42,320.03 L182.81,320.8 L183.19,321.53 L183.58,322.21 L183.97,322.84 L184.36,323.43 L184.75,323.98 L185.14,324.5 L185.52,324.98 L185.91,325.43 L186.3,325.85 L186.69,326.24 L187.08,326.61 L187.47,326.96 L187.85,327.28 L188.24,327.59 L188.63,327.88 L189.02,328.15 L189.41,328.4 L189.8,328.65 L190.19,328.87 L190.57,329.09 L190.96,329.29 L191.35,329.48 L191.74,329.67 L192.13,329.84 L192.52,330.01 L192.9,330.16 L193.29,330.31 L193.68,330.45 L194.07,330.59 L194.46,330.72 L194.85,330.84 L195.24,330.96 L195.62,331.07 L196.01,331.18 L196.4,331.28 L196.79,331.38 L197.18,331.47 L197.57,331.56 L197.95,331.65 L198.34,331.73 L198.73,331.81 L199.12,331.89 L199.51,331.96 L199.9,332.03 L200.28,332.1 L200.67,332.17 L201.06,332.23 L201.45,332.29 L201.84,332.35 L202.23,332.41 L202.62,332.46 L203,332.52 L203.39,332.57 L203.78,332.62 L204.17,332.67 L204.56,332.71 L204.95,332.76 L205.33,332.8 L205.72,332.84 L206.11,332.88 L206.5,332.92" fill="none" stroke="#3a3e92" stroke-width="2.1" stroke-linejoin="round" opacity="0.85"/>
<path d="M129.2,332.81 L129.59,332.77 L129.98,332.74 L130.37,332.7 L130.75,332.66 L131.14,332.62 L131.53,332.58 L131.92,332.54 L132.31,332.49 L132.7,332.45 L133.08,332.4 L133.47,332.35 L133.86,332.3 L134.25,332.25 L134.64,332.2 L135.03,332.14 L135.42,332.08 L135.8,332.02 L136.19,331.96 L136.58,331.89 L136.97,331.82 L137.36,331.75 L137.75,331.68 L138.13,331.6 L138.52,331.52 L138.91,331.44 L139.3,331.35 L139.69,331.26 L140.08,331.17 L140.46,331.07 L140.85,330.96 L141.24,330.85 L141.63,330.74 L142.02,330.62 L142.41,330.5 L142.8,330.37 L143.18,330.23 L143.57,330.08 L143.96,329.93 L144.35,329.77 L144.74,329.6 L145.13,329.42 L145.51,329.24 L145.9,329.04 L146.29,328.83 L146.68,328.61 L147.07,328.37 L147.46,328.12 L147.85,327.86 L148.23,327.58 L148.62,327.28 L149.01,326.96 L149.4,326.63 L149.79,326.27 L150.18,325.88 L150.56,325.47 L150.95,325.03 L151.34,324.56 L151.73,324.06 L152.12,323.53 L152.51,322.95 L152.89,322.33 L153.28,321.67 L153.67,320.96 L154.06,320.21 L154.45,319.4 L154.84,318.53 L155.23,317.61 L155.61,316.64 L156,315.61 L156.39,314.53 L156.78,313.41 L157.17,312.26 L157.56,311.1 L157.94,309.95 L158.33,308.85 L158.72,307.84 L159.11,307 L159.5,306.41 L159.7,306.28 L159.89,306.29 L160.28,306.48 L160.66,306.99 L161.05,307.88 L161.44,309.15 L161.83,310.75 L162.22,312.59 L162.61,314.57 L162.99,316.59 L163.38,318.57 L163.77,320.44 L164.16,322.16 L164.55,323.73 L164.94,325.14 L165.33,326.39 L165.71,327.49 L166.1,328.46 L166.49,329.31 L166.88,330.06 L167.27,330.72 L167.66,331.29 L168.04,331.8 L168.3,332.1 L168.43,331.95 L168.82,331.47 L169.21,330.91 L169.6,330.29 L169.99,329.57 L170.37,328.76 L170.76,327.83 L171.15,326.77 L171.54,325.57 L171.93,324.22 L172.32,322.7 L172.71,321.02 L173.09,319.2 L173.48,317.25 L173.87,315.24 L174.26,313.24 L174.65,311.35 L175.04,309.66 L175.42,308.28 L175.81,307.27 L176.2,306.64 L176.59,306.36 L176.9,306.32 L176.98,306.35 L177.37,306.82 L177.76,307.6 L178.14,308.57 L178.53,309.65 L178.92,310.79 L179.31,311.95 L179.7,313.11 L180.09,314.24 L180.47,315.34 L180.86,316.38 L181.25,317.38 L181.64,318.32 L182.03,319.2 L182.42,320.03 L182.81,320.8 L183.19,321.53 L183.58,322.21 L183.97,322.84 L184.36,323.43 L184.75,323.98 L185.14,324.5 L185.52,324.98 L185.91,325.43 L186.3,325.85 L186.69,326.24 L187.08,326.61 L187.47,326.96 L187.85,327.28 L188.24,327.59 L188.63,327.88 L189.02,328.15 L189.41,328.4 L189.8,328.65 L190.19,328.87 L190.57,329.09 L190.96,329.29 L191.35,329.48 L191.74,329.67 L192.13,329.84 L192.52,330.01 L192.9,330.16 L193.29,330.31 L193.68,330.45 L194.07,330.59 L194.46,330.72 L194.85,330.84 L195.24,330.96 L195.62,331.07 L196.01,331.18 L196.4,331.28 L196.79,331.38 L197.18,331.47 L197.57,331.56 L197.95,331.65 L198.34,331.73 L198.73,331.81 L199.12,331.89 L199.51,331.96 L199.9,332.03 L200.28,332.1 L200.67,332.17 L201.06,332.23 L201.45,332.29 L201.84,332.35 L202.23,332.41 L202.62,332.46 L203,332.52 L203.39,332.57 L203.78,332.62 L204.17,332.67 L204.56,332.71 L204.95,332.76 L205.33,332.8 L205.72,332.84 L206.11,332.88 L206.5,332.92" fill="none" stroke="#101238" stroke-width="1.0" stroke-linejoin="round" stroke-dasharray="1.4,1.1" opacity="0.9"/>
<path d="M129.2,357.21 L129.59,357.16 L129.98,357.1 L130.37,357.04 L130.75,356.97 L131.14,356.91 L131.53,356.84 L131.92,356.77 L132.31,356.7 L132.7,356.63 L133.08,356.56 L133.47,356.48 L133.86,356.4 L134.25,356.32 L134.64,356.23 L135.03,356.15 L135.42,356.06 L135.8,355.97 L136.19,355.87 L136.58,355.77 L136.97,355.67 L137.36,355.57 L137.75,355.46 L138.13,355.35 L138.52,355.23 L138.91,355.11 L139.3,354.99 L139.69,354.86 L140.08,354.73 L140.46,354.59 L140.85,354.45 L141.24,354.3 L141.63,354.15 L142.02,353.99 L142.41,353.82 L142.8,353.65 L143.18,353.47 L143.57,353.29 L143.96,353.1 L144.35,352.9 L144.74,352.69 L145.13,352.48 L145.51,352.25 L145.9,352.02 L146.29,351.77 L146.68,351.52 L147.07,351.26 L147.46,350.98 L147.85,350.69 L148.23,350.39 L148.62,350.08 L149.01,349.75 L149.4,349.42 L149.79,349.06 L150.18,348.69 L150.56,348.31 L150.95,347.9 L151.34,347.48 L151.73,347.05 L152.12,346.59 L152.51,346.12 L152.89,345.63 L153.28,345.12 L153.67,344.58 L154.06,344.03 L154.45,343.47 L154.84,342.88 L155.23,342.28 L155.61,341.66 L156,341.02 L156.39,340.38 L156.78,339.73 L157.17,339.08 L157.56,338.42 L157.94,337.78 L158.33,337.15 L158.72,336.55 L159.11,335.99 L159.5,335.47 L159.89,335.03 L160.28,334.67 L160.66,334.45 L160.8,334.42 L161.05,334.45 L161.44,334.72 L161.83,335.38 L162.22,336.46 L162.61,337.93 L162.99,339.68 L163.38,341.58 L163.77,343.51 L164.16,345.37 L164.55,347.09 L164.94,348.64 L165.33,350.02 L165.71,351.22 L166.1,352.27 L166.49,353.17 L166.88,353.94 L167.27,354.61 L167.66,355.18 L168.04,355.67 L168.3,355.96 L168.43,355.82 L168.82,355.34 L169.21,354.79 L169.6,354.16 L169.99,353.42 L170.37,352.56 L170.76,351.56 L171.15,350.41 L171.54,349.08 L171.93,347.58 L172.32,345.91 L172.71,344.09 L173.09,342.17 L173.48,340.25 L173.87,338.43 L174.26,336.86 L174.65,335.64 L175.04,334.85 L175.42,334.46 L175.8,334.38 L175.81,334.38 L176.2,334.54 L176.59,334.86 L176.98,335.28 L177.37,335.77 L177.76,336.32 L178.14,336.91 L178.53,337.53 L178.92,338.16 L179.31,338.81 L179.7,339.46 L180.09,340.11 L180.47,340.76 L180.86,341.39 L181.25,342.01 L181.64,342.62 L182.03,343.21 L182.42,343.78 L182.81,344.34 L183.19,344.87 L183.58,345.39 L183.97,345.88 L184.36,346.36 L184.75,346.82 L185.14,347.26 L185.52,347.68 L185.91,348.09 L186.3,348.48 L186.69,348.85 L187.08,349.21 L187.47,349.55 L187.85,349.88 L188.24,350.19 L188.63,350.49 L189.02,350.78 L189.41,351.06 L189.8,351.33 L190.19,351.58 L190.57,351.83 L190.96,352.06 L191.35,352.29 L191.74,352.5 L192.13,352.71 L192.52,352.91 L192.9,353.1 L193.29,353.29 L193.68,353.46 L194.07,353.64 L194.46,353.8 L194.85,353.96 L195.24,354.11 L195.62,354.26 L196.01,354.4 L196.4,354.54 L196.79,354.67 L197.18,354.8 L197.57,354.92 L197.95,355.04 L198.34,355.16 L198.73,355.27 L199.12,355.37 L199.51,355.48 L199.9,355.58 L200.28,355.67 L200.67,355.77 L201.06,355.86 L201.45,355.95 L201.84,356.03 L202.23,356.12 L202.62,356.2 L203,356.27 L203.39,356.35 L203.78,356.42 L204.17,356.49 L204.56,356.56 L204.95,356.63 L205.33,356.7 L205.72,356.76 L206.11,356.82 L206.5,356.88" fill="none" stroke="#3a3e92" stroke-width="2.1" stroke-linejoin="round" opacity="0.85"/>
<path d="M129.2,357.21 L129.59,357.16 L129.98,357.1 L130.37,357.04 L130.75,356.97 L131.14,356.91 L131.53,356.84 L131.92,356.77 L132.31,356.7 L132.7,356.63 L133.08,356.56 L133.47,356.48 L133.86,356.4 L134.25,356.32 L134.64,356.23 L135.03,356.15 L135.42,356.06 L135.8,355.97 L136.19,355.87 L136.58,355.77 L136.97,355.67 L137.36,355.57 L137.75,355.46 L138.13,355.35 L138.52,355.23 L138.91,355.11 L139.3,354.99 L139.69,354.86 L140.08,354.73 L140.46,354.59 L140.85,354.45 L141.24,354.3 L141.63,354.15 L142.02,353.99 L142.41,353.82 L142.8,353.65 L143.18,353.47 L143.57,353.29 L143.96,353.1 L144.35,352.9 L144.74,352.69 L145.13,352.48 L145.51,352.25 L145.9,352.02 L146.29,351.77 L146.68,351.52 L147.07,351.26 L147.46,350.98 L147.85,350.69 L148.23,350.39 L148.62,350.08 L149.01,349.75 L149.4,349.42 L149.79,349.06 L150.18,348.69 L150.56,348.31 L150.95,347.9 L151.34,347.48 L151.73,347.05 L152.12,346.59 L152.51,346.12 L152.89,345.63 L153.28,345.12 L153.67,344.58 L154.06,344.03 L154.45,343.47 L154.84,342.88 L155.23,342.28 L155.61,341.66 L156,341.02 L156.39,340.38 L156.78,339.73 L157.17,339.08 L157.56,338.42 L157.94,337.78 L158.33,337.15 L158.72,336.55 L159.11,335.99 L159.5,335.47 L159.89,335.03 L160.28,334.67 L160.66,334.45 L160.8,334.42 L161.05,334.45 L161.44,334.72 L161.83,335.38 L162.22,336.46 L162.61,337.93 L162.99,339.68 L163.38,341.58 L163.77,343.51 L164.16,345.37 L164.55,347.09 L164.94,348.64 L165.33,350.02 L165.71,351.22 L166.1,352.27 L166.49,353.17 L166.88,353.94 L167.27,354.61 L167.66,355.18 L168.04,355.67 L168.3,355.96 L168.43,355.82 L168.82,355.34 L169.21,354.79 L169.6,354.16 L169.99,353.42 L170.37,352.56 L170.76,351.56 L171.15,350.41 L171.54,349.08 L171.93,347.58 L172.32,345.91 L172.71,344.09 L173.09,342.17 L173.48,340.25 L173.87,338.43 L174.26,336.86 L174.65,335.64 L175.04,334.85 L175.42,334.46 L175.8,334.38 L175.81,334.38 L176.2,334.54 L176.59,334.86 L176.98,335.28 L177.37,335.77 L177.76,336.32 L178.14,336.91 L178.53,337.53 L178.92,338.16 L179.31,338.81 L179.7,339.46 L180.09,340.11 L180.47,340.76 L180.86,341.39 L181.25,342.01 L181.64,342.62 L182.03,343.21 L182.42,343.78 L182.81,344.34 L183.19,344.87 L183.58,345.39 L183.97,345.88 L184.36,346.36 L184.75,346.82 L185.14,347.26 L185.52,347.68 L185.91,348.09 L186.3,348.48 L186.69,348.85 L187.08,349.21 L187.47,349.55 L187.85,349.88 L188.24,350.19 L188.63,350.49 L189.02,350.78 L189.41,351.06 L189.8,351.33 L190.19,351.58 L190.57,351.83 L190.96,352.06 L191.35,352.29 L191.74,352.5 L192.13,352.71 L192.52,352.91 L192.9,353.1 L193.29,353.29 L193.68,353.46 L194.07,353.64 L194.46,353.8 L194.85,353.96 L195.24,354.11 L195.62,354.26 L196.01,354.4 L196.4,354.54 L196.79,354.67 L197.18,354.8 L197.57,354.92 L197.95,355.04 L198.34,355.16 L198.73,355.27 L199.12,355.37 L199.51,355.48 L199.9,355.58 L200.28,355.67 L200.67,355.77 L201.06,355.86 L201.45,355.95 L201.84,356.03 L202.23,356.12 L202.62,356.2 L203,356.27 L203.39,356.35 L203.78,356.42 L204.17,356.49 L204.56,356.56 L204.95,356.63 L205.33,356.7 L205.72,356.76 L206.11,356.82 L206.5,356.88" fill="none" stroke="#101238" stroke-width="1.0" stroke-linejoin="round" stroke-dasharray="1.4,1.1" opacity="0.9"/>
<path d="M129.2,381.28 L129.69,381.2 L130.17,381.12 L130.66,381.03 L131.14,380.94 L131.63,380.85 L132.12,380.76 L132.6,380.66 L133.09,380.55 L133.58,380.45 L134.06,380.34 L134.55,380.23 L135.03,380.11 L135.52,379.99 L136.01,379.86 L136.49,379.73 L136.98,379.6 L137.46,379.46 L137.95,379.31 L138.44,379.16 L138.92,379 L139.41,378.84 L139.9,378.67 L140.38,378.5 L140.87,378.32 L141.35,378.13 L141.84,377.94 L142.33,377.74 L142.81,377.53 L143.3,377.31 L143.78,377.09 L144.27,376.86 L144.76,376.62 L145.24,376.37 L145.73,376.11 L146.22,375.84 L146.7,375.56 L147.19,375.27 L147.67,374.97 L148.16,374.67 L148.65,374.35 L149.13,374.02 L149.62,373.68 L150.11,373.33 L150.59,372.96 L151.08,372.59 L151.56,372.21 L152.05,371.82 L152.54,371.41 L153.02,371 L153.51,370.58 L153.99,370.15 L154.48,369.72 L154.97,369.28 L155.45,368.84 L155.94,368.4 L156.43,367.96 L156.91,367.52 L157.4,367.09 L157.88,366.67 L158.37,366.27 L158.86,365.88 L159.34,365.52 L159.83,365.19 L160.31,364.9 L160.8,364.64 L161.29,364.43 L161.77,364.27 L162.26,364.17 L162.75,364.12 L163.23,364.13 L163.72,364.21 L164.2,364.34 L164.69,364.51 L165.18,364.72 L165.66,364.96 L166.15,365.2 L166.63,365.42 L167.12,365.61 L167.61,365.75 L168.09,365.82 L168.58,365.82 L169.07,365.75 L169.55,365.62 L170.04,365.44 L170.52,365.23 L171.01,365.01 L171.5,364.79 L171.98,364.6 L172.47,364.44 L172.95,364.34 L173.44,364.29 L173.93,364.3 L174.41,364.37 L174.9,364.5 L175.39,364.68 L175.87,364.91 L176.36,365.19 L176.84,365.5 L177.33,365.85 L177.82,366.23 L178.3,366.64 L178.79,367.06 L179.27,367.49 L179.76,367.94 L180.25,368.39 L180.73,368.85 L181.22,369.31 L181.71,369.76 L182.19,370.22 L182.68,370.67 L183.16,371.11 L183.65,371.54 L184.14,371.97 L184.62,372.38 L185.11,372.79 L185.59,373.19 L186.08,373.57 L186.57,373.95 L187.05,374.31 L187.54,374.67 L188.03,375.01 L188.51,375.34 L189,375.66 L189.48,375.97 L189.97,376.28 L190.46,376.57 L190.94,376.85 L191.43,377.12 L191.92,377.39 L192.4,377.64 L192.89,377.89 L193.37,378.13 L193.86,378.36 L194.35,378.58 L194.83,378.79 L195.32,379 L195.8,379.2 L196.29,379.4 L196.78,379.58 L197.26,379.77 L197.75,379.94 L198.24,380.11 L198.72,380.28 L199.21,380.44 L199.69,380.59 L200.18,380.74 L200.67,380.88 L201.15,381.03 L201.64,381.16 L202.12,381.29 L202.61,381.42 L203.1,381.55 L203.58,381.67 L204.07,381.78 L204.56,381.9 L205.04,382.01 L205.53,382.11 L206.01,382.22 L206.5,382.32" fill="none" stroke="#3a3e92" stroke-width="2.1" stroke-linejoin="round" opacity="0.85"/>
<path d="M129.2,381.28 L129.69,381.2 L130.17,381.12 L130.66,381.03 L131.14,380.94 L131.63,380.85 L132.12,380.76 L132.6,380.66 L133.09,380.55 L133.58,380.45 L134.06,380.34 L134.55,380.23 L135.03,380.11 L135.52,379.99 L136.01,379.86 L136.49,379.73 L136.98,379.6 L137.46,379.46 L137.95,379.31 L138.44,379.16 L138.92,379 L139.41,378.84 L139.9,378.67 L140.38,378.5 L140.87,378.32 L141.35,378.13 L141.84,377.94 L142.33,377.74 L142.81,377.53 L143.3,377.31 L143.78,377.09 L144.27,376.86 L144.76,376.62 L145.24,376.37 L145.73,376.11 L146.22,375.84 L146.7,375.56 L147.19,375.27 L147.67,374.97 L148.16,374.67 L148.65,374.35 L149.13,374.02 L149.62,373.68 L150.11,373.33 L150.59,372.96 L151.08,372.59 L151.56,372.21 L152.05,371.82 L152.54,371.41 L153.02,371 L153.51,370.58 L153.99,370.15 L154.48,369.72 L154.97,369.28 L155.45,368.84 L155.94,368.4 L156.43,367.96 L156.91,367.52 L157.4,367.09 L157.88,366.67 L158.37,366.27 L158.86,365.88 L159.34,365.52 L159.83,365.19 L160.31,364.9 L160.8,364.64 L161.29,364.43 L161.77,364.27 L162.26,364.17 L162.75,364.12 L163.23,364.13 L163.72,364.21 L164.2,364.34 L164.69,364.51 L165.18,364.72 L165.66,364.96 L166.15,365.2 L166.63,365.42 L167.12,365.61 L167.61,365.75 L168.09,365.82 L168.58,365.82 L169.07,365.75 L169.55,365.62 L170.04,365.44 L170.52,365.23 L171.01,365.01 L171.5,364.79 L171.98,364.6 L172.47,364.44 L172.95,364.34 L173.44,364.29 L173.93,364.3 L174.41,364.37 L174.9,364.5 L175.39,364.68 L175.87,364.91 L176.36,365.19 L176.84,365.5 L177.33,365.85 L177.82,366.23 L178.3,366.64 L178.79,367.06 L179.27,367.49 L179.76,367.94 L180.25,368.39 L180.73,368.85 L181.22,369.31 L181.71,369.76 L182.19,370.22 L182.68,370.67 L183.16,371.11 L183.65,371.54 L184.14,371.97 L184.62,372.38 L185.11,372.79 L185.59,373.19 L186.08,373.57 L186.57,373.95 L187.05,374.31 L187.54,374.67 L188.03,375.01 L188.51,375.34 L189,375.66 L189.48,375.97 L189.97,376.28 L190.46,376.57 L190.94,376.85 L191.43,377.12 L191.92,377.39 L192.4,377.64 L192.89,377.89 L193.37,378.13 L193.86,378.36 L194.35,378.58 L194.83,378.79 L195.32,379 L195.8,379.2 L196.29,379.4 L196.78,379.58 L197.26,379.77 L197.75,379.94 L198.24,380.11 L198.72,380.28 L199.21,380.44 L199.69,380.59 L200.18,380.74 L200.67,380.88 L201.15,381.03 L201.64,381.16 L202.12,381.29 L202.61,381.42 L203.1,381.55 L203.58,381.67 L204.07,381.78 L204.56,381.9 L205.04,382.01 L205.53,382.11 L206.01,382.22 L206.5,382.32" fill="none" stroke="#101238" stroke-width="1.0" stroke-linejoin="round" stroke-dasharray="1.4,1.1" opacity="0.9"/>
<path d="M129.2,406.71 L129.69,406.59 L130.17,406.46 L130.66,406.33 L131.14,406.2 L131.63,406.07 L132.12,405.93 L132.6,405.79 L133.09,405.65 L133.58,405.5 L134.06,405.36 L134.55,405.2 L135.03,405.05 L135.52,404.89 L136.01,404.73 L136.49,404.56 L136.98,404.39 L137.46,404.22 L137.95,404.04 L138.44,403.86 L138.92,403.68 L139.41,403.49 L139.9,403.3 L140.38,403.1 L140.87,402.9 L141.35,402.7 L141.84,402.49 L142.33,402.28 L142.81,402.06 L143.3,401.84 L143.78,401.61 L144.27,401.38 L144.76,401.15 L145.24,400.91 L145.73,400.67 L146.22,400.42 L146.7,400.17 L147.19,399.91 L147.67,399.65 L148.16,399.38 L148.65,399.11 L149.13,398.84 L149.62,398.56 L150.11,398.28 L150.59,397.99 L151.08,397.7 L151.56,397.41 L152.05,397.11 L152.54,396.82 L153.02,396.51 L153.51,396.21 L153.99,395.91 L154.48,395.6 L154.97,395.29 L155.45,394.98 L155.94,394.67 L156.43,394.36 L156.91,394.06 L157.4,393.75 L157.88,393.45 L158.37,393.15 L158.86,392.85 L159.34,392.56 L159.83,392.27 L160.31,391.99 L160.8,391.72 L161.29,391.46 L161.77,391.2 L162.26,390.95 L162.75,390.72 L163.23,390.5 L163.72,390.29 L164.2,390.1 L164.69,389.92 L165.18,389.75 L165.66,389.61 L166.15,389.48 L166.63,389.38 L167.12,389.3 L167.61,389.24 L168.09,389.2 L168.58,389.2 L169.07,389.23 L169.55,389.28 L170.04,389.36 L170.52,389.46 L171.01,389.57 L171.5,389.71 L171.98,389.87 L172.47,390.04 L172.95,390.22 L173.44,390.42 L173.93,390.64 L174.41,390.86 L174.9,391.1 L175.39,391.35 L175.87,391.6 L176.36,391.87 L176.84,392.14 L177.33,392.42 L177.82,392.7 L178.3,392.99 L178.79,393.28 L179.27,393.57 L179.76,393.87 L180.25,394.16 L180.73,394.46 L181.22,394.76 L181.71,395.06 L182.19,395.36 L182.68,395.65 L183.16,395.95 L183.65,396.24 L184.14,396.53 L184.62,396.82 L185.11,397.11 L185.59,397.39 L186.08,397.67 L186.57,397.94 L187.05,398.21 L187.54,398.48 L188.03,398.74 L188.51,399 L189,399.26 L189.48,399.51 L189.97,399.75 L190.46,400 L190.94,400.23 L191.43,400.47 L191.92,400.7 L192.4,400.92 L192.89,401.14 L193.37,401.35 L193.86,401.56 L194.35,401.77 L194.83,401.97 L195.32,402.17 L195.8,402.36 L196.29,402.55 L196.78,402.74 L197.26,402.92 L197.75,403.1 L198.24,403.27 L198.72,403.44 L199.21,403.61 L199.69,403.77 L200.18,403.93 L200.67,404.08 L201.15,404.23 L201.64,404.38 L202.12,404.53 L202.61,404.67 L203.1,404.81 L203.58,404.94 L204.07,405.07 L204.56,405.2 L205.04,405.33 L205.53,405.45 L206.01,405.57 L206.5,405.69" fill="none" stroke="#3a3e92" stroke-width="2.1" stroke-linejoin="round" opacity="0.85"/>
<path d="M129.2,406.71 L129.69,406.59 L130.17,406.46 L130.66,406.33 L131.14,406.2 L131.63,406.07 L132.12,405.93 L132.6,405.79 L133.09,405.65 L133.58,405.5 L134.06,405.36 L134.55,405.2 L135.03,405.05 L135.52,404.89 L136.01,404.73 L136.49,404.56 L136.98,404.39 L137.46,404.22 L137.95,404.04 L138.44,403.86 L138.92,403.68 L139.41,403.49 L139.9,403.3 L140.38,403.1 L140.87,402.9 L141.35,402.7 L141.84,402.49 L142.33,402.28 L142.81,402.06 L143.3,401.84 L143.78,401.61 L144.27,401.38 L144.76,401.15 L145.24,400.91 L145.73,400.67 L146.22,400.42 L146.7,400.17 L147.19,399.91 L147.67,399.65 L148.16,399.38 L148.65,399.11 L149.13,398.84 L149.62,398.56 L150.11,398.28 L150.59,397.99 L151.08,397.7 L151.56,397.41 L152.05,397.11 L152.54,396.82 L153.02,396.51 L153.51,396.21 L153.99,395.91 L154.48,395.6 L154.97,395.29 L155.45,394.98 L155.94,394.67 L156.43,394.36 L156.91,394.06 L157.4,393.75 L157.88,393.45 L158.37,393.15 L158.86,392.85 L159.34,392.56 L159.83,392.27 L160.31,391.99 L160.8,391.72 L161.29,391.46 L161.77,391.2 L162.26,390.95 L162.75,390.72 L163.23,390.5 L163.72,390.29 L164.2,390.1 L164.69,389.92 L165.18,389.75 L165.66,389.61 L166.15,389.48 L166.63,389.38 L167.12,389.3 L167.61,389.24 L168.09,389.2 L168.58,389.2 L169.07,389.23 L169.55,389.28 L170.04,389.36 L170.52,389.46 L171.01,389.57 L171.5,389.71 L171.98,389.87 L172.47,390.04 L172.95,390.22 L173.44,390.42 L173.93,390.64 L174.41,390.86 L174.9,391.1 L175.39,391.35 L175.87,391.6 L176.36,391.87 L176.84,392.14 L177.33,392.42 L177.82,392.7 L178.3,392.99 L178.79,393.28 L179.27,393.57 L179.76,393.87 L180.25,394.16 L180.73,394.46 L181.22,394.76 L181.71,395.06 L182.19,395.36 L182.68,395.65 L183.16,395.95 L183.65,396.24 L184.14,396.53 L184.62,396.82 L185.11,397.11 L185.59,397.39 L186.08,397.67 L186.57,397.94 L187.05,398.21 L187.54,398.48 L188.03,398.74 L188.51,399 L189,399.26 L189.48,399.51 L189.97,399.75 L190.46,400 L190.94,400.23 L191.43,400.47 L191.92,400.7 L192.4,400.92 L192.89,401.14 L193.37,401.35 L193.86,401.56 L194.35,401.77 L194.83,401.97 L195.32,402.17 L195.8,402.36 L196.29,402.55 L196.78,402.74 L197.26,402.92 L197.75,403.1 L198.24,403.27 L198.72,403.44 L199.21,403.61 L199.69,403.77 L200.18,403.93 L200.67,404.08 L201.15,404.23 L201.64,404.38 L202.12,404.53 L202.61,404.67 L203.1,404.81 L203.58,404.94 L204.07,405.07 L204.56,405.2 L205.04,405.33 L205.53,405.45 L206.01,405.57 L206.5,405.69" fill="none" stroke="#101238" stroke-width="1.0" stroke-linejoin="round" stroke-dasharray="1.4,1.1" opacity="0.9"/>
<text x="129.4" y="64" font-size="8.4" text-anchor="start" font-weight="normal" font-style="normal" fill="#111"  letter-spacing="-0.15">20 K</text>
<text x="129.4" y="90.6" font-size="8.4" text-anchor="start" font-weight="normal" font-style="normal" fill="#111"  letter-spacing="-0.15">40 K</text>
<text x="129.4" y="114.2" font-size="8.4" text-anchor="start" font-weight="normal" font-style="normal" fill="#111"  letter-spacing="-0.15">70 K</text>
<text x="129.4" y="139" font-size="8.4" text-anchor="start" font-weight="normal" font-style="normal" fill="#111"  letter-spacing="-0.15">82 K</text>
<text x="129.4" y="161" font-size="8.4" text-anchor="start" font-weight="normal" font-style="normal" fill="#111"  letter-spacing="-0.15">87 K</text>
<text x="129.4" y="184.2" font-size="8.4" text-anchor="start" font-weight="normal" font-style="normal" fill="#111"  letter-spacing="-0.15">92 K</text>
<text x="129.4" y="206.9" font-size="8.4" text-anchor="start" font-weight="normal" font-style="normal" fill="#111"  letter-spacing="-0.15">97 K</text>
<text x="207.3" y="251.7" font-size="8.4" text-anchor="end" font-weight="normal" font-style="normal" fill="#111"  letter-spacing="-0.15">10 K</text>
<text x="129.4" y="278.8" font-size="8.4" text-anchor="start" font-weight="normal" font-style="normal" fill="#111"  letter-spacing="-0.15">35 K</text>
<text x="129.4" y="302.2" font-size="8.4" text-anchor="start" font-weight="normal" font-style="normal" fill="#111"  letter-spacing="-0.15">70 K</text>
<text x="129.4" y="327.9" font-size="8.4" text-anchor="start" font-weight="normal" font-style="normal" fill="#111"  letter-spacing="-0.15">82 K</text>
<text x="129.4" y="350.7" font-size="8.4" text-anchor="start" font-weight="normal" font-style="normal" fill="#111"  letter-spacing="-0.15">87 K</text>
<text x="129.4" y="374.8" font-size="8.4" text-anchor="start" font-weight="normal" font-style="normal" fill="#111"  letter-spacing="-0.15">92 K</text>
<text x="129.4" y="400.2" font-size="8.4" text-anchor="start" font-weight="normal" font-style="normal" fill="#111"  letter-spacing="-0.15">97 K</text>
<text x="133" y="426" font-size="8.6" text-anchor="middle" font-weight="normal" font-style="normal" fill="#111" >−0.05</text>
<text x="167" y="426" font-size="8.6" text-anchor="middle" font-weight="normal" font-style="normal" fill="#111" >0</text>
<text x="201.5" y="426" font-size="8.6" text-anchor="middle" font-weight="normal" font-style="normal" fill="#111" >0.05</text>
<text x="169.5" y="438.8" font-size="9.2" text-anchor="middle" fill="#111"><tspan font-style="italic">E</tspan> − <tspan font-style="italic">E</tspan><tspan font-size="6.6" dy="1.8">F</tspan><tspan dy="-1.8"> (eV)</tspan></text>
<rect x="241.8" y="20.7" width="192.2" height="191.1" fill="none" stroke="#050505" stroke-width="1.6"/>
<line x1="241.8" y1="192.9" x2="248.3" y2="192.9" stroke="#050505" stroke-width="1.5" />
<text x="237.4" y="196.3" font-size="9.5" text-anchor="end" font-weight="normal" font-style="normal" fill="#111" >0</text>
<line x1="241.8" y1="146.25" x2="248.3" y2="146.25" stroke="#050505" stroke-width="1.5" />
<text x="237.4" y="149.65" font-size="9.5" text-anchor="end" font-weight="normal" font-style="normal" fill="#111" >5</text>
<line x1="241.8" y1="99.6" x2="248.3" y2="99.6" stroke="#050505" stroke-width="1.5" />
<text x="237.4" y="103" font-size="9.5" text-anchor="end" font-weight="normal" font-style="normal" fill="#111" >10</text>
<line x1="241.8" y1="52.95" x2="248.3" y2="52.95" stroke="#050505" stroke-width="1.5" />
<text x="237.4" y="56.35" font-size="9.5" text-anchor="end" font-weight="normal" font-style="normal" fill="#111" >15</text>
<line x1="275" y1="211.8" x2="275" y2="205.6" stroke="#050505" stroke-width="1.5" />
<line x1="308.6" y1="211.8" x2="308.6" y2="205.6" stroke="#050505" stroke-width="1.5" />
<line x1="342.2" y1="211.8" x2="342.2" y2="205.6" stroke="#050505" stroke-width="1.5" />
<line x1="375.8" y1="211.8" x2="375.8" y2="205.6" stroke="#050505" stroke-width="1.5" />
<line x1="409.4" y1="211.8" x2="409.4" y2="205.6" stroke="#050505" stroke-width="1.5" />
<line x1="241.8" y1="192.9" x2="434" y2="192.9" stroke="#050505" stroke-width="1.6" stroke-dasharray="7.5,8" />
<line x1="395.1" y1="20.7" x2="395.1" y2="211.8" stroke="#050505" stroke-width="1.6" stroke-dasharray="5.7,4.8" stroke-dashoffset="1.4"/>
<text x="399.6" y="94.6" font-size="9.0" fill="#111" font-style="italic">T<tspan font-size="6.4" font-style="normal" dy="3.1">C</tspan></text>
<text x="0" y="0" font-size="8.6" letter-spacing="0.3" text-anchor="middle" fill="#111" transform="translate(221.9,120.3) rotate(-90)">Δ<tspan font-size="6.5" font-style="italic" dy="1.8">k</tspan><tspan dy="-1.8"> (meV)</tspan></text>
<rect x="241.8" y="218.9" width="192.2" height="192.4" fill="none" stroke="#050505" stroke-width="1.6"/>
<line x1="241.8" y1="392.3" x2="248.3" y2="392.3" stroke="#050505" stroke-width="1.5" />
<text x="237.4" y="395.7" font-size="9.5" text-anchor="end" font-weight="normal" font-style="normal" fill="#111" >0</text>
<line x1="241.8" y1="345.65" x2="248.3" y2="345.65" stroke="#050505" stroke-width="1.5" />
<text x="237.4" y="349.05" font-size="9.5" text-anchor="end" font-weight="normal" font-style="normal" fill="#111" >5</text>
<line x1="241.8" y1="299" x2="248.3" y2="299" stroke="#050505" stroke-width="1.5" />
<text x="237.4" y="302.4" font-size="9.5" text-anchor="end" font-weight="normal" font-style="normal" fill="#111" >10</text>
<line x1="241.8" y1="252.35" x2="248.3" y2="252.35" stroke="#050505" stroke-width="1.5" />
<text x="237.4" y="255.75" font-size="9.5" text-anchor="end" font-weight="normal" font-style="normal" fill="#111" >15</text>
<line x1="275" y1="411.3" x2="275" y2="405.1" stroke="#050505" stroke-width="1.5" />
<line x1="308.6" y1="411.3" x2="308.6" y2="405.1" stroke="#050505" stroke-width="1.5" />
<line x1="342.2" y1="411.3" x2="342.2" y2="405.1" stroke="#050505" stroke-width="1.5" />
<line x1="375.8" y1="411.3" x2="375.8" y2="405.1" stroke="#050505" stroke-width="1.5" />
<line x1="409.4" y1="411.3" x2="409.4" y2="405.1" stroke="#050505" stroke-width="1.5" />
<line x1="241.8" y1="392.3" x2="434" y2="392.3" stroke="#050505" stroke-width="1.6" stroke-dasharray="7.5,8" />
<line x1="395.1" y1="218.9" x2="395.1" y2="411.3" stroke="#050505" stroke-width="1.6" stroke-dasharray="5.5,4.65" stroke-dashoffset="6.05"/>
<text x="399.6" y="303.7" font-size="9.0" fill="#111" font-style="italic">T<tspan font-size="6.4" font-style="normal" dy="3.1">C</tspan></text>
<text x="0" y="0" font-size="8.6" letter-spacing="0.3" text-anchor="middle" fill="#111" transform="translate(221.9,319.7) rotate(-90)">Δ<tspan font-size="6.5" font-style="italic" dy="1.8">k</tspan><tspan dy="-1.8"> (meV)</tspan></text>
<text x="241.4" y="424" font-size="9" text-anchor="middle" font-weight="normal" font-style="normal" fill="#111" >0</text>
<text x="275" y="424" font-size="9" text-anchor="middle" font-weight="normal" font-style="normal" fill="#111" >20</text>
<text x="308.6" y="424" font-size="9" text-anchor="middle" font-weight="normal" font-style="normal" fill="#111" >40</text>
<text x="342.2" y="424" font-size="9" text-anchor="middle" font-weight="normal" font-style="normal" fill="#111" >60</text>
<text x="375.8" y="424" font-size="9" text-anchor="middle" font-weight="normal" font-style="normal" fill="#111" >80</text>
<text x="409.4" y="424" font-size="9" text-anchor="middle" font-weight="normal" font-style="normal" fill="#111" >100</text>
<text x="334.5" y="440" font-size="9" text-anchor="middle" font-weight="normal" font-style="normal" fill="#111" >T (K)</text>
<path d="M242.5,39.3 L243.55,39.3 L244.92,39.3 L246.53,39.3 L248.35,39.3 L250.29,39.3 L252.32,39.3 L254.36,39.3 L256.36,39.3 L258.26,39.3 L260,39.3 L261.61,39.3 L263.18,39.28 L264.71,39.27 L266.21,39.25 L267.7,39.24 L269.18,39.23 L270.68,39.23 L272.19,39.24 L273.72,39.26 L275.3,39.3 L276.91,39.35 L278.55,39.42 L280.21,39.49 L281.89,39.57 L283.58,39.66 L285.27,39.76 L286.96,39.87 L288.65,40 L290.33,40.14 L292,40.3 L293.67,40.48 L295.37,40.67 L297.08,40.89 L298.79,41.12 L300.49,41.36 L302.18,41.6 L303.83,41.85 L305.44,42.11 L307,42.36 L308.5,42.6 L309.9,42.8 L311.2,42.95 L312.42,43.06 L313.59,43.16 L314.75,43.29 L315.92,43.46 L317.13,43.7 L318.41,44.03 L319.79,44.49 L321.3,45.1 L322.94,45.86 L324.69,46.73 L326.52,47.72 L328.43,48.8 L330.38,49.96 L332.35,51.18 L334.35,52.45 L336.33,53.75 L338.29,55.07 L340.2,56.4 L342.1,57.75 L344.02,59.13 L345.96,60.56 L347.9,62.03 L349.83,63.53 L351.74,65.07 L353.63,66.65 L355.47,68.27 L357.27,69.92 L359,71.6 L360.69,73.33 L362.36,75.13 L364,76.97 L365.61,78.86 L367.18,80.77 L368.7,82.7 L370.17,84.64 L371.58,86.58 L372.93,88.5 L374.2,90.4 L375.4,92.29 L376.53,94.17 L377.59,96.06 L378.6,97.95 L379.55,99.84 L380.45,101.74 L381.32,103.63 L382.14,105.52 L382.93,107.41 L383.7,109.3 L384.42,111.17 L385.09,113.02 L385.7,114.85 L386.27,116.68 L386.81,118.51 L387.32,120.37 L387.82,122.25 L388.31,124.18 L388.8,126.16 L389.3,128.2 L389.81,130.33 L390.32,132.55 L390.83,134.84 L391.33,137.18 L391.82,139.54 L392.29,141.9 L392.74,144.23 L393.16,146.53 L393.55,148.76 L393.9,150.9 L394.22,153.04 L394.51,155.26 L394.78,157.5 L395.02,159.72 L395.24,161.87 L395.43,163.91 L395.6,165.79 L395.75,167.46 L395.89,168.88 L396,170" fill="none" stroke="#2a8f80" stroke-width="1.2" stroke-dasharray="7.5,8" stroke-dashoffset="10"/>
<path d="M242.5,101.4 L243.55,101.4 L244.92,101.4 L246.53,101.4 L248.35,101.4 L250.29,101.4 L252.32,101.4 L254.36,101.4 L256.36,101.4 L258.26,101.4 L260,101.4 L261.61,101.4 L263.18,101.39 L264.71,101.39 L266.21,101.38 L267.7,101.38 L269.18,101.37 L270.68,101.37 L272.19,101.37 L273.72,101.38 L275.3,101.4 L276.89,101.42 L278.47,101.43 L280.05,101.44 L281.63,101.46 L283.24,101.48 L284.89,101.51 L286.57,101.56 L288.31,101.62 L290.12,101.7 L292,101.8 L293.99,101.9 L296.08,101.99 L298.26,102.08 L300.49,102.18 L302.76,102.31 L305.04,102.46 L307.31,102.67 L309.54,102.94 L311.71,103.28 L313.8,103.7 L315.77,104.21 L317.65,104.81 L319.45,105.48 L321.21,106.2 L322.96,106.98 L324.74,107.79 L326.57,108.63 L328.49,109.48 L330.52,110.34 L332.7,111.2 L335.1,112.06 L337.71,112.94 L340.48,113.85 L343.35,114.77 L346.26,115.71 L349.13,116.67 L351.91,117.65 L354.54,118.65 L356.96,119.67 L359.1,120.7 L360.96,121.74 L362.61,122.79 L364.09,123.84 L365.42,124.91 L366.64,126.01 L367.78,127.13 L368.89,128.28 L369.99,129.47 L371.11,130.71 L372.3,132 L373.53,133.35 L374.76,134.76 L375.98,136.22 L377.18,137.72 L378.36,139.26 L379.51,140.81 L380.62,142.37 L381.7,143.93 L382.73,145.48 L383.7,147 L384.62,148.5 L385.51,149.97 L386.35,151.43 L387.16,152.89 L387.92,154.36 L388.65,155.85 L389.34,157.37 L390,158.93 L390.62,160.53 L391.2,162.2 L391.75,164.02 L392.26,166.03 L392.73,168.17 L393.17,170.36 L393.57,172.55 L393.93,174.66 L394.26,176.63 L394.54,178.39 L394.79,179.87 L395,181" fill="none" stroke="#dc4b3e" stroke-width="1.2" stroke-dasharray="7.5,8" stroke-dashoffset="10"/>
<path d="M261.3,198.6 L261.3,128.1 L272.23,128.1 L273.24,134.06 L274.25,139.1 L275.26,143.4 L276.27,147.13 L277.28,150.38 L278.29,153.24 L279.3,155.79 L280.31,158.06 L281.31,160.11 L282.32,161.96 L283.33,163.64 L284.34,165.17 L285.35,166.57 L286.36,167.86 L287.37,169.05 L288.38,170.15 L289.39,171.18 L290.4,172.13 L291.41,173.02 L292.42,173.85 L293.43,174.62 L294.44,175.35 L295.45,176.04 L296.46,176.69 L297.47,177.3 L298.48,177.88 L299.49,178.43 L300.5,178.95 L301.51,179.44 L302.52,179.91 L303.53,180.36 L304.54,180.78 L305.55,181.19 L306.56,181.58 L307.57,181.95 L308.58,182.3 L309.59,182.65 L310.6,182.97 L311.61,183.29 L312.62,183.59 L313.63,183.88 L314.64,184.16 L315.64,184.42 L316.65,184.68 L317.66,184.93 L318.67,185.17 L319.68,185.4 L320.69,185.63 L321.7,185.85 L322.71,186.06 L323.72,186.26 L324.73,186.45 L325.74,186.65 L326.75,186.83 L327.76,187.01 L328.77,187.18 L329.78,187.35 L330.79,187.51 L331.8,187.67 L331.8,198.6 Z" fill="#e4bf9e" stroke="none"/>
<path d="M272.23,128.1 L273.24,134.06 L274.25,139.1 L275.26,143.4 L276.27,147.13 L277.28,150.38 L278.29,153.24 L279.3,155.79 L280.31,158.06 L281.31,160.11 L282.32,161.96 L283.33,163.64 L284.34,165.17 L285.35,166.57 L286.36,167.86 L287.37,169.05 L288.38,170.15 L289.39,171.18 L290.4,172.13 L291.41,173.02 L292.42,173.85 L293.43,174.62 L294.44,175.35 L295.45,176.04 L296.46,176.69 L297.47,177.3 L298.48,177.88 L299.49,178.43 L300.5,178.95 L301.51,179.44 L302.52,179.91 L303.53,180.36 L304.54,180.78 L305.55,181.19 L306.56,181.58 L307.57,181.95 L308.58,182.3 L309.59,182.65 L310.6,182.97 L311.61,183.29 L312.62,183.59 L313.63,183.88 L314.64,184.16 L315.64,184.42 L316.65,184.68 L317.66,184.93 L318.67,185.17 L319.68,185.4 L320.69,185.63 L321.7,185.85 L322.71,186.06 L323.72,186.26 L324.73,186.45 L325.74,186.65 L326.75,186.83 L327.76,187.01 L328.77,187.18 L329.78,187.35 L330.79,187.51 L331.8,187.67" fill="none" stroke="#d8413a" stroke-width="0.9"/>
<line x1="261.3" y1="198.6" x2="331.8" y2="128.1" stroke="#050505" stroke-width="1.3" />
<rect x="261.3" y="128.1" width="70.5" height="70.5" fill="none" stroke="#050505" stroke-width="1.5"/>
<text x="333.4" y="127.5" font-size="7.7" fill="#111">(π,π)</text>
<text x="252.9" y="207.5" font-size="9.6" font-style="italic" fill="#111">Γ</text>
<line x1="296" y1="170" x2="297.6" y2="187" stroke="#e0443a" stroke-width="1.2" />
<circle cx="296.9" cy="177.3" r="1.9" fill="#d8413a" stroke="#5a1a1a" stroke-width="0.5"/>
<line x1="302" y1="171.7" x2="303" y2="189.4" stroke="#3aa040" stroke-width="1.4" />
<circle cx="302.6" cy="180.3" r="1.9" fill="#3aa040" stroke="#1a4a1a" stroke-width="0.5"/>
<text x="285.8" y="186.2" font-size="9.5" text-anchor="start" font-weight="normal" font-style="normal" fill="#111" >A</text>
<text x="306.2" y="181.8" font-size="9.5" text-anchor="start" font-weight="normal" font-style="normal" fill="#111" >B</text>
<rect x="354" y="157.6" width="8" height="8" fill="#e4463c" stroke="#161616" stroke-width="1.5"/>
<rect x="354" y="172.8" width="8" height="8" fill="#6cb046" stroke="#161616" stroke-width="1.5"/>
<text x="365" y="165.6" font-size="10" text-anchor="start" font-weight="normal" font-style="normal" fill="#111" >A</text>
<text x="365" y="180.8" font-size="10" text-anchor="start" font-weight="normal" font-style="normal" fill="#111" >B</text>
<line x1="275" y1="82.74" x2="275" y2="120.06" stroke="#e55a4c" stroke-width="1.25" />
<line x1="271.9" y1="82.74" x2="278.1" y2="82.74" stroke="#e55a4c" stroke-width="1.25" />
<line x1="271.9" y1="120.06" x2="278.1" y2="120.06" stroke="#e55a4c" stroke-width="1.25" />
<rect x="271.2" y="97.6" width="7.6" height="7.6" fill="#e4463c" stroke="#161616" stroke-width="1.6"/>
<line x1="308.6" y1="84.04" x2="308.6" y2="121.36" stroke="#e55a4c" stroke-width="1.25" />
<line x1="305.5" y1="84.04" x2="311.7" y2="84.04" stroke="#e55a4c" stroke-width="1.25" />
<line x1="305.5" y1="121.36" x2="311.7" y2="121.36" stroke="#e55a4c" stroke-width="1.25" />
<rect x="304.8" y="98.9" width="7.6" height="7.6" fill="#e4463c" stroke="#161616" stroke-width="1.6"/>
<line x1="359" y1="94.84" x2="359" y2="132.16" stroke="#e55a4c" stroke-width="1.25" />
<line x1="355.9" y1="94.84" x2="362.1" y2="94.84" stroke="#e55a4c" stroke-width="1.25" />
<line x1="355.9" y1="132.16" x2="362.1" y2="132.16" stroke="#e55a4c" stroke-width="1.25" />
<rect x="355.2" y="109.7" width="7.6" height="7.6" fill="#e4463c" stroke="#161616" stroke-width="1.6"/>
<line x1="379.16" y1="119.04" x2="379.16" y2="156.36" stroke="#e55a4c" stroke-width="1.25" />
<line x1="376.06" y1="119.04" x2="382.26" y2="119.04" stroke="#e55a4c" stroke-width="1.25" />
<line x1="376.06" y1="156.36" x2="382.26" y2="156.36" stroke="#e55a4c" stroke-width="1.25" />
<rect x="375.36" y="133.9" width="7.6" height="7.6" fill="#e4463c" stroke="#161616" stroke-width="1.6"/>
<line x1="387.56" y1="134.94" x2="387.56" y2="172.26" stroke="#e55a4c" stroke-width="1.25" />
<line x1="384.46" y1="134.94" x2="390.66" y2="134.94" stroke="#e55a4c" stroke-width="1.25" />
<line x1="384.46" y1="172.26" x2="390.66" y2="172.26" stroke="#e55a4c" stroke-width="1.25" />
<rect x="383.76" y="149.8" width="7.6" height="7.6" fill="#e4463c" stroke="#161616" stroke-width="1.6"/>
<line x1="395.96" y1="174.34" x2="395.96" y2="211.66" stroke="#e55a4c" stroke-width="1.25" />
<line x1="392.86" y1="174.34" x2="399.06" y2="174.34" stroke="#e55a4c" stroke-width="1.25" />
<line x1="392.86" y1="211.66" x2="399.06" y2="211.66" stroke="#e55a4c" stroke-width="1.25" />
<rect x="392.16" y="189.2" width="7.6" height="7.6" fill="#e4463c" stroke="#161616" stroke-width="1.6"/>
<line x1="275" y1="20.7" x2="275" y2="57.96" stroke="#82b868" stroke-width="1.25" />
<line x1="271.9" y1="57.96" x2="278.1" y2="57.96" stroke="#82b868" stroke-width="1.25" />
<rect x="271.2" y="35.5" width="7.6" height="7.6" fill="#64ab44" stroke="#161616" stroke-width="1.6"/>
<line x1="308.6" y1="23.94" x2="308.6" y2="61.26" stroke="#82b868" stroke-width="1.25" />
<line x1="305.5" y1="23.94" x2="311.7" y2="23.94" stroke="#82b868" stroke-width="1.25" />
<line x1="305.5" y1="61.26" x2="311.7" y2="61.26" stroke="#82b868" stroke-width="1.25" />
<rect x="304.8" y="38.8" width="7.6" height="7.6" fill="#64ab44" stroke="#161616" stroke-width="1.6"/>
<line x1="359" y1="49.24" x2="359" y2="86.56" stroke="#82b868" stroke-width="1.25" />
<line x1="355.9" y1="49.24" x2="362.1" y2="49.24" stroke="#82b868" stroke-width="1.25" />
<line x1="355.9" y1="86.56" x2="362.1" y2="86.56" stroke="#82b868" stroke-width="1.25" />
<rect x="355.2" y="64.1" width="7.6" height="7.6" fill="#64ab44" stroke="#161616" stroke-width="1.6"/>
<line x1="379.16" y1="67.14" x2="379.16" y2="104.46" stroke="#82b868" stroke-width="1.25" />
<line x1="376.06" y1="67.14" x2="382.26" y2="67.14" stroke="#82b868" stroke-width="1.25" />
<line x1="376.06" y1="104.46" x2="382.26" y2="104.46" stroke="#82b868" stroke-width="1.25" />
<rect x="375.36" y="82" width="7.6" height="7.6" fill="#64ab44" stroke="#161616" stroke-width="1.6"/>
<line x1="387.56" y1="97.84" x2="387.56" y2="135.16" stroke="#82b868" stroke-width="1.25" />
<line x1="384.46" y1="97.84" x2="390.66" y2="97.84" stroke="#82b868" stroke-width="1.25" />
<line x1="384.46" y1="135.16" x2="390.66" y2="135.16" stroke="#82b868" stroke-width="1.25" />
<rect x="383.76" y="112.7" width="7.6" height="7.6" fill="#64ab44" stroke="#161616" stroke-width="1.6"/>
<line x1="395.96" y1="148.54" x2="395.96" y2="185.86" stroke="#82b868" stroke-width="1.25" />
<line x1="392.86" y1="148.54" x2="399.06" y2="148.54" stroke="#82b868" stroke-width="1.25" />
<line x1="392.86" y1="185.86" x2="399.06" y2="185.86" stroke="#82b868" stroke-width="1.25" />
<rect x="392.16" y="163.4" width="7.6" height="7.6" fill="#64ab44" stroke="#161616" stroke-width="1.6"/>
<line x1="404.36" y1="172.54" x2="404.36" y2="209.86" stroke="#82b868" stroke-width="1.25" />
<line x1="401.26" y1="172.54" x2="407.46" y2="172.54" stroke="#82b868" stroke-width="1.25" />
<line x1="401.26" y1="209.86" x2="407.46" y2="209.86" stroke="#82b868" stroke-width="1.25" />
<rect x="400.56" y="187.4" width="7.6" height="7.6" fill="#64ab44" stroke="#161616" stroke-width="1.6"/>
<line x1="412.76" y1="172.54" x2="412.76" y2="209.86" stroke="#82b868" stroke-width="1.25" />
<line x1="409.66" y1="172.54" x2="415.86" y2="172.54" stroke="#82b868" stroke-width="1.25" />
<line x1="409.66" y1="209.86" x2="415.86" y2="209.86" stroke="#82b868" stroke-width="1.25" />
<rect x="408.96" y="187.4" width="7.6" height="7.6" fill="#64ab44" stroke="#161616" stroke-width="1.6"/>
<line x1="429.56" y1="172.54" x2="429.56" y2="209.86" stroke="#82b868" stroke-width="1.25" />
<line x1="426.46" y1="172.54" x2="432.66" y2="172.54" stroke="#82b868" stroke-width="1.25" />
<line x1="426.46" y1="209.86" x2="432.66" y2="209.86" stroke="#82b868" stroke-width="1.25" />
<rect x="425.76" y="187.4" width="7.6" height="7.6" fill="#64ab44" stroke="#161616" stroke-width="1.6"/>
<path d="M242.5,258.1 L243.4,258.1 L244.52,258.1 L245.83,258.1 L247.31,258.1 L248.93,258.09 L250.66,258.09 L252.47,258.09 L254.33,258.09 L256.21,258.1 L258.1,258.1 L260.04,258.1 L262.11,258.11 L264.26,258.11 L266.49,258.11 L268.77,258.12 L271.07,258.13 L273.36,258.14 L275.63,258.15 L277.85,258.17 L280,258.2 L282.13,258.23 L284.3,258.26 L286.5,258.3 L288.68,258.34 L290.82,258.39 L292.91,258.44 L294.91,258.49 L296.79,258.56 L298.53,258.62 L300.1,258.7 L301.49,258.78 L302.72,258.86 L303.8,258.95 L304.78,259.04 L305.66,259.14 L306.48,259.25 L307.26,259.37 L308.02,259.5 L308.79,259.64 L309.6,259.8 L310.38,259.96 L311.06,260.13 L311.68,260.29 L312.27,260.47 L312.86,260.66 L313.46,260.87 L314.12,261.11 L314.86,261.37 L315.71,261.67 L316.7,262 L317.86,262.38 L319.2,262.82 L320.66,263.29 L322.21,263.79 L323.8,264.31 L325.39,264.85 L326.94,265.38 L328.4,265.91 L329.74,266.42 L330.9,266.9 L331.89,267.34 L332.75,267.76 L333.5,268.15 L334.16,268.53 L334.78,268.92 L335.37,269.32 L335.96,269.75 L336.58,270.21 L337.25,270.72 L338,271.3 L338.82,271.94 L339.66,272.62 L340.54,273.36 L341.43,274.12 L342.34,274.92 L343.25,275.74 L344.17,276.57 L345.09,277.42 L346,278.26 L346.9,279.1 L347.8,279.95 L348.71,280.81 L349.63,281.69 L350.55,282.58 L351.46,283.48 L352.37,284.39 L353.26,285.3 L354.14,286.2 L354.98,287.11 L355.8,288 L356.59,288.9 L357.36,289.83 L358.12,290.77 L358.86,291.71 L359.57,292.65 L360.28,293.57 L360.96,294.47 L361.62,295.32 L362.27,296.14 L362.9,296.9 L363.5,297.59 L364.07,298.21 L364.62,298.78 L365.14,299.3 L365.66,299.81 L366.16,300.32 L366.66,300.83 L367.16,301.37 L367.67,301.96 L368.2,302.6 L368.73,303.27 L369.25,303.93 L369.76,304.59 L370.27,305.27 L370.79,305.98 L371.31,306.74 L371.85,307.55 L372.41,308.44 L372.99,309.42 L373.6,310.5 L374.26,311.73 L374.97,313.11 L375.72,314.62 L376.49,316.21 L377.27,317.84 L378.04,319.47 L378.78,321.08 L379.48,322.61 L380.13,324.03 L380.7,325.3 L381.19,326.41 L381.6,327.4 L381.95,328.29 L382.27,329.11 L382.56,329.89 L382.84,330.66 L383.12,331.45 L383.44,332.28 L383.79,333.19 L384.2,334.2 L384.67,335.31 L385.19,336.5 L385.74,337.75 L386.31,339.03 L386.9,340.34 L387.49,341.66 L388.06,342.98 L388.61,344.26 L389.13,345.51 L389.6,346.7 L390.03,347.84 L390.45,348.94 L390.84,350.02 L391.22,351.07 L391.58,352.11 L391.91,353.14 L392.23,354.17 L392.54,355.2 L392.83,356.24 L393.1,357.3 L393.36,358.32 L393.59,359.26 L393.81,360.17 L394.01,361.06 L394.2,361.98 L394.37,362.95 L394.52,364.01 L394.66,365.18 L394.79,366.5 L394.9,368 L394.99,369.8 L395.06,371.92 L395.11,374.28 L395.14,376.78 L395.16,379.32 L395.17,381.8 L395.18,384.14 L395.18,386.23 L395.19,387.98 L395.2,389.3" fill="none" stroke="#2f3a90" stroke-width="1.2" stroke-dasharray="7.5,8" stroke-dashoffset="10"/>
<path d="M262.5,379.3 L262.5,309.3 L273.35,309.3 L274.35,315.22 L275.36,320.22 L276.36,324.49 L277.36,328.19 L278.36,331.42 L279.37,334.27 L280.37,336.79 L281.37,339.05 L282.37,341.08 L283.38,342.92 L284.38,344.58 L285.38,346.11 L286.38,347.5 L287.39,348.78 L288.39,349.96 L289.39,351.06 L290.39,352.07 L291.4,353.02 L292.4,353.9 L293.4,354.72 L294.4,355.49 L295.41,356.22 L296.41,356.9 L297.41,357.54 L298.41,358.15 L299.42,358.73 L300.42,359.27 L301.42,359.79 L302.42,360.28 L303.43,360.74 L304.43,361.19 L305.43,361.61 L306.43,362.01 L307.44,362.4 L308.44,362.77 L309.44,363.12 L310.44,363.46 L311.45,363.78 L312.45,364.09 L313.45,364.39 L314.45,364.68 L315.46,364.96 L316.46,365.22 L317.46,365.48 L318.46,365.73 L319.47,365.97 L320.47,366.2 L321.47,366.42 L322.47,366.64 L323.48,366.84 L324.48,367.05 L325.48,367.24 L326.48,367.43 L327.49,367.61 L328.49,367.79 L329.49,367.96 L330.49,368.13 L331.5,368.29 L332.5,368.45 L332.5,379.3 Z" fill="#e4bf9e" stroke="none"/>
<path d="M273.35,309.3 L274.35,315.22 L275.36,320.22 L276.36,324.49 L277.36,328.19 L278.36,331.42 L279.37,334.27 L280.37,336.79 L281.37,339.05 L282.37,341.08 L283.38,342.92 L284.38,344.58 L285.38,346.11 L286.38,347.5 L287.39,348.78 L288.39,349.96 L289.39,351.06 L290.39,352.07 L291.4,353.02 L292.4,353.9 L293.4,354.72 L294.4,355.49 L295.41,356.22 L296.41,356.9 L297.41,357.54 L298.41,358.15 L299.42,358.73 L300.42,359.27 L301.42,359.79 L302.42,360.28 L303.43,360.74 L304.43,361.19 L305.43,361.61 L306.43,362.01 L307.44,362.4 L308.44,362.77 L309.44,363.12 L310.44,363.46 L311.45,363.78 L312.45,364.09 L313.45,364.39 L314.45,364.68 L315.46,364.96 L316.46,365.22 L317.46,365.48 L318.46,365.73 L319.47,365.97 L320.47,366.2 L321.47,366.42 L322.47,366.64 L323.48,366.84 L324.48,367.05 L325.48,367.24 L326.48,367.43 L327.49,367.61 L328.49,367.79 L329.49,367.96 L330.49,368.13 L331.5,368.29 L332.5,368.45" fill="none" stroke="#d8413a" stroke-width="0.9"/>
<line x1="262.5" y1="379.3" x2="332.5" y2="309.3" stroke="#050505" stroke-width="1.3" />
<rect x="262.5" y="309.3" width="70" height="70" fill="none" stroke="#050505" stroke-width="1.5"/>
<text x="334.1" y="306.3" font-size="7.7" fill="#111">(π,π)</text>
<text x="254.1" y="386.2" font-size="9.6" font-style="italic" fill="#111">Γ</text>
<line x1="295.4" y1="365.5" x2="306.2" y2="354.6" stroke="#3a3f9a" stroke-width="1.4" />
<circle cx="301" cy="359.8" r="1.9" fill="#2a2f8a" stroke="#101040" stroke-width="0.5"/>
<text x="285.8" y="367.2" font-size="9.5" text-anchor="start" font-weight="normal" font-style="normal" fill="#111" >C</text>
<line x1="258.2" y1="239.44" x2="258.2" y2="276.76" stroke="#34398f" stroke-width="1.25" />
<line x1="255.1" y1="239.44" x2="261.3" y2="239.44" stroke="#34398f" stroke-width="1.25" />
<line x1="255.1" y1="276.76" x2="261.3" y2="276.76" stroke="#34398f" stroke-width="1.25" />
<rect x="254.4" y="254.3" width="7.6" height="7.6" fill="#34398f" stroke="#161616" stroke-width="1.6"/>
<line x1="300.2" y1="243.24" x2="300.2" y2="280.56" stroke="#34398f" stroke-width="1.25" />
<line x1="297.1" y1="243.24" x2="303.3" y2="243.24" stroke="#34398f" stroke-width="1.25" />
<line x1="297.1" y1="280.56" x2="303.3" y2="280.56" stroke="#34398f" stroke-width="1.25" />
<rect x="296.4" y="258.1" width="7.6" height="7.6" fill="#34398f" stroke="#161616" stroke-width="1.6"/>
<line x1="359" y1="254.64" x2="359" y2="291.96" stroke="#34398f" stroke-width="1.25" />
<line x1="355.9" y1="254.64" x2="362.1" y2="254.64" stroke="#34398f" stroke-width="1.25" />
<line x1="355.9" y1="291.96" x2="362.1" y2="291.96" stroke="#34398f" stroke-width="1.25" />
<rect x="355.2" y="269.5" width="7.6" height="7.6" fill="#34398f" stroke="#161616" stroke-width="1.6"/>
<line x1="379.16" y1="272.74" x2="379.16" y2="310.06" stroke="#34398f" stroke-width="1.25" />
<line x1="376.06" y1="272.74" x2="382.26" y2="272.74" stroke="#34398f" stroke-width="1.25" />
<line x1="376.06" y1="310.06" x2="382.26" y2="310.06" stroke="#34398f" stroke-width="1.25" />
<rect x="375.36" y="287.6" width="7.6" height="7.6" fill="#34398f" stroke="#161616" stroke-width="1.6"/>
<line x1="387.56" y1="302.94" x2="387.56" y2="340.26" stroke="#34398f" stroke-width="1.25" />
<line x1="384.46" y1="302.94" x2="390.66" y2="302.94" stroke="#34398f" stroke-width="1.25" />
<line x1="384.46" y1="340.26" x2="390.66" y2="340.26" stroke="#34398f" stroke-width="1.25" />
<rect x="383.76" y="317.8" width="7.6" height="7.6" fill="#34398f" stroke="#161616" stroke-width="1.6"/>
<line x1="395.96" y1="354.84" x2="395.96" y2="392.16" stroke="#34398f" stroke-width="1.25" />
<line x1="392.86" y1="354.84" x2="399.06" y2="354.84" stroke="#34398f" stroke-width="1.25" />
<line x1="392.86" y1="392.16" x2="399.06" y2="392.16" stroke="#34398f" stroke-width="1.25" />
<rect x="392.16" y="369.7" width="7.6" height="7.6" fill="#34398f" stroke="#161616" stroke-width="1.6"/>
<line x1="404.36" y1="373.84" x2="404.36" y2="411.16" stroke="#34398f" stroke-width="1.25" />
<line x1="401.26" y1="373.84" x2="407.46" y2="373.84" stroke="#34398f" stroke-width="1.25" />
<line x1="401.26" y1="411.16" x2="407.46" y2="411.16" stroke="#34398f" stroke-width="1.25" />
<rect x="400.56" y="388.7" width="7.6" height="7.6" fill="#34398f" stroke="#161616" stroke-width="1.6"/>
<line x1="412.76" y1="373.84" x2="412.76" y2="411.16" stroke="#34398f" stroke-width="1.25" />
<line x1="409.66" y1="373.84" x2="415.86" y2="373.84" stroke="#34398f" stroke-width="1.25" />
<line x1="409.66" y1="411.16" x2="415.86" y2="411.16" stroke="#34398f" stroke-width="1.25" />
<rect x="408.96" y="388.7" width="7.6" height="7.6" fill="#34398f" stroke="#161616" stroke-width="1.6"/>
<line x1="440.5" y1="0" x2="440.5" y2="450" stroke="#2a2a2a" stroke-width="1" />
</svg>
</body></html>
